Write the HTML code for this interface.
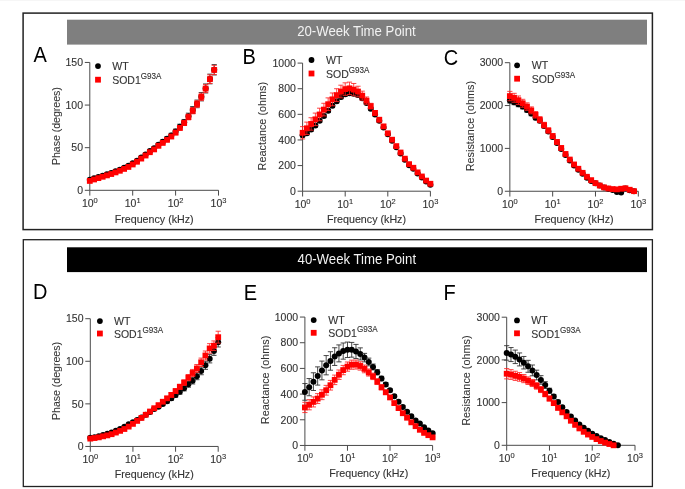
<!DOCTYPE html>
<html><head><meta charset="utf-8"><style>
html,body{margin:0;padding:0;background:#fff;width:685px;height:489px;overflow:hidden}
svg{display:block;will-change:transform}
text{font-family:"Liberation Sans", sans-serif}
</style></head><body>
<svg width="685" height="489" viewBox="0 0 685 489">
<rect x="0" y="0" width="685" height="1" fill="#f6f6f6"/>
<rect x="23.1" y="13.1" width="629.3" height="216.5" fill="none" stroke="#222" stroke-width="1.5"/>
<rect x="23.3" y="239.7" width="629.1" height="246.8" fill="none" stroke="#222" stroke-width="1.3"/>
<rect x="67" y="19.7" width="580" height="24.9" fill="#7f7f7f"/>
<rect x="67" y="247.3" width="580" height="24.8" fill="#000"/>
<text transform="translate(356.40,36.30) scale(1,1.04)" text-anchor="middle" font-size="13.2" fill="#f2f2f2">20-Week Time Point</text>
<text transform="translate(356.80,264.20) scale(1,1.04)" text-anchor="middle" font-size="13.2" fill="#f2f2f2">40-Week Time Point</text>
<path d="M89.80,62.45V190.30H218.50" fill="none" stroke="#4a4a4a" stroke-width="1"/>
<path d="M84.80,190.30H89.80" stroke="#4a4a4a" stroke-width="1"/>
<text transform="translate(83.00,194.05) scale(1,1.04)" text-anchor="end" font-size="10.5" fill="#333" stroke="#333" stroke-width="0.12">0</text>
<path d="M84.80,147.68H89.80" stroke="#4a4a4a" stroke-width="1"/>
<text transform="translate(83.00,151.43) scale(1,1.04)" text-anchor="end" font-size="10.5" fill="#333" stroke="#333" stroke-width="0.12">50</text>
<path d="M84.80,105.07H89.80" stroke="#4a4a4a" stroke-width="1"/>
<text transform="translate(83.00,108.82) scale(1,1.04)" text-anchor="end" font-size="10.5" fill="#333" stroke="#333" stroke-width="0.12">100</text>
<path d="M84.80,62.45H89.80" stroke="#4a4a4a" stroke-width="1"/>
<text transform="translate(83.00,66.20) scale(1,1.04)" text-anchor="end" font-size="10.5" fill="#333" stroke="#333" stroke-width="0.12">150</text>
<path d="M89.80,190.30V195.60" stroke="#4a4a4a" stroke-width="1"/>
<text transform="translate(89.80,207.30) scale(1,1.04)" text-anchor="middle" font-size="10.5" fill="#333" stroke="#333" stroke-width="0.12">10<tspan font-size="7.5" dy="-4.0">0</tspan></text>
<path d="M132.70,190.30V195.60" stroke="#4a4a4a" stroke-width="1"/>
<text transform="translate(132.70,207.30) scale(1,1.04)" text-anchor="middle" font-size="10.5" fill="#333" stroke="#333" stroke-width="0.12">10<tspan font-size="7.5" dy="-4.0">1</tspan></text>
<path d="M175.60,190.30V195.60" stroke="#4a4a4a" stroke-width="1"/>
<text transform="translate(175.60,207.30) scale(1,1.04)" text-anchor="middle" font-size="10.5" fill="#333" stroke="#333" stroke-width="0.12">10<tspan font-size="7.5" dy="-4.0">2</tspan></text>
<path d="M218.50,190.30V195.60" stroke="#4a4a4a" stroke-width="1"/>
<text transform="translate(218.50,207.30) scale(1,1.04)" text-anchor="middle" font-size="10.5" fill="#333" stroke="#333" stroke-width="0.12">10<tspan font-size="7.5" dy="-4.0">3</tspan></text>
<text transform="translate(154.15,222.70) scale(1,1.04)" text-anchor="middle" font-size="10.7" fill="#333" stroke="#333" stroke-width="0.12">Frequency (kHz)</text>
<text transform="translate(60.00,126.15) rotate(-90) scale(1,1.04)" text-anchor="middle" font-size="10.55" fill="#333" stroke="#333" stroke-width="0.05">Phase (degrees)</text>
<text transform="translate(33.60,61.60) scale(1,1.07)" font-size="20" fill="#000">A</text>
<circle cx="98.0" cy="66.1" r="2.9" fill="#000"/>
<rect x="95.1" y="76.8" width="5.8" height="5.8" fill="#f00"/>
<text transform="translate(112.20,69.70) scale(1,1.04)" font-size="10.6" fill="#333" stroke="#333" stroke-width="0.12">WT</text>
<text transform="translate(112.20,83.70) scale(1,1.04)" font-size="10.5" fill="#333" stroke="#333" stroke-width="0.12">SOD1<tspan font-size="8.1" dy="-4.6">G93A</tspan></text>
<path d="M89.80,179.13V180.50M87.20,179.13h5.2M87.20,180.50h5.2" stroke="#333" stroke-width="0.9" fill="none"/>
<circle cx="89.80" cy="179.82" r="3.0" fill="#000"/>
<path d="M94.09,177.65V179.09M91.49,177.65h5.2M91.49,179.09h5.2" stroke="#333" stroke-width="0.9" fill="none"/>
<circle cx="94.09" cy="178.37" r="3.0" fill="#000"/>
<path d="M98.38,176.24V177.77M95.78,176.24h5.2M95.78,177.77h5.2" stroke="#333" stroke-width="0.9" fill="none"/>
<circle cx="98.38" cy="177.00" r="3.0" fill="#000"/>
<path d="M102.67,174.84V176.44M100.07,174.84h5.2M100.07,176.44h5.2" stroke="#333" stroke-width="0.9" fill="none"/>
<circle cx="102.67" cy="175.64" r="3.0" fill="#000"/>
<path d="M106.96,173.44V175.12M104.36,173.44h5.2M104.36,175.12h5.2" stroke="#333" stroke-width="0.9" fill="none"/>
<circle cx="106.96" cy="174.28" r="3.0" fill="#000"/>
<path d="M111.25,172.03V173.79M108.65,172.03h5.2M108.65,173.79h5.2" stroke="#333" stroke-width="0.9" fill="none"/>
<circle cx="111.25" cy="172.91" r="3.0" fill="#000"/>
<path d="M115.54,170.37V172.21M112.94,170.37h5.2M112.94,172.21h5.2" stroke="#333" stroke-width="0.9" fill="none"/>
<circle cx="115.54" cy="171.29" r="3.0" fill="#000"/>
<path d="M119.83,168.71V170.63M117.23,168.71h5.2M117.23,170.63h5.2" stroke="#333" stroke-width="0.9" fill="none"/>
<circle cx="119.83" cy="169.67" r="3.0" fill="#000"/>
<path d="M124.12,166.80V168.80M121.52,166.80h5.2M121.52,168.80h5.2" stroke="#333" stroke-width="0.9" fill="none"/>
<circle cx="124.12" cy="167.80" r="3.0" fill="#000"/>
<path d="M128.41,164.80V166.88M125.81,164.80h5.2M125.81,166.88h5.2" stroke="#333" stroke-width="0.9" fill="none"/>
<circle cx="128.41" cy="165.84" r="3.0" fill="#000"/>
<path d="M132.70,162.29V164.45M130.10,162.29h5.2M130.10,164.45h5.2" stroke="#333" stroke-width="0.9" fill="none"/>
<circle cx="132.70" cy="163.37" r="3.0" fill="#000"/>
<path d="M136.99,159.52V161.76M134.39,159.52h5.2M134.39,161.76h5.2" stroke="#333" stroke-width="0.9" fill="none"/>
<circle cx="136.99" cy="160.64" r="3.0" fill="#000"/>
<path d="M141.28,156.33V158.64M138.68,156.33h5.2M138.68,158.64h5.2" stroke="#333" stroke-width="0.9" fill="none"/>
<circle cx="141.28" cy="157.49" r="3.0" fill="#000"/>
<path d="M145.57,153.22V155.62M142.97,153.22h5.2M142.97,155.62h5.2" stroke="#333" stroke-width="0.9" fill="none"/>
<circle cx="145.57" cy="154.42" r="3.0" fill="#000"/>
<path d="M149.86,149.85V152.33M147.26,149.85h5.2M147.26,152.33h5.2" stroke="#333" stroke-width="0.9" fill="none"/>
<circle cx="149.86" cy="151.09" r="3.0" fill="#000"/>
<path d="M154.15,147.00V149.56M151.55,147.00h5.2M151.55,149.56h5.2" stroke="#333" stroke-width="0.9" fill="none"/>
<circle cx="154.15" cy="148.28" r="3.0" fill="#000"/>
<path d="M158.44,143.20V146.20M155.84,143.20h5.2M155.84,146.20h5.2" stroke="#333" stroke-width="0.9" fill="none"/>
<circle cx="158.44" cy="144.70" r="3.0" fill="#000"/>
<path d="M162.73,140.09V143.52M160.13,140.09h5.2M160.13,143.52h5.2" stroke="#333" stroke-width="0.9" fill="none"/>
<circle cx="162.73" cy="141.80" r="3.0" fill="#000"/>
<path d="M167.02,136.80V140.67M164.42,136.80h5.2M164.42,140.67h5.2" stroke="#333" stroke-width="0.9" fill="none"/>
<circle cx="167.02" cy="138.73" r="3.0" fill="#000"/>
<path d="M171.31,133.25V137.56M168.71,133.25h5.2M168.71,137.56h5.2" stroke="#333" stroke-width="0.9" fill="none"/>
<circle cx="171.31" cy="135.41" r="3.0" fill="#000"/>
<path d="M175.60,129.11V133.86M173.00,129.11h5.2M173.00,133.86h5.2" stroke="#333" stroke-width="0.9" fill="none"/>
<circle cx="175.60" cy="131.49" r="3.0" fill="#000"/>
<path d="M179.89,124.21V129.39M177.29,124.21h5.2M177.29,129.39h5.2" stroke="#333" stroke-width="0.9" fill="none"/>
<circle cx="179.89" cy="126.80" r="3.0" fill="#000"/>
<path d="M184.18,119.47V125.10M181.58,119.47h5.2M181.58,125.10h5.2" stroke="#333" stroke-width="0.9" fill="none"/>
<circle cx="184.18" cy="122.28" r="3.0" fill="#000"/>
<path d="M188.47,113.16V119.47M185.87,113.16h5.2M185.87,119.47h5.2" stroke="#333" stroke-width="0.9" fill="none"/>
<circle cx="188.47" cy="116.32" r="3.0" fill="#000"/>
<path d="M192.76,106.52V113.50M190.16,106.52h5.2M190.16,113.50h5.2" stroke="#333" stroke-width="0.9" fill="none"/>
<circle cx="192.76" cy="110.01" r="3.0" fill="#000"/>
<path d="M197.05,100.04V107.71M194.45,100.04h5.2M194.45,107.71h5.2" stroke="#333" stroke-width="0.9" fill="none"/>
<circle cx="197.05" cy="103.87" r="3.0" fill="#000"/>
<path d="M201.34,92.54V100.89M198.74,92.54h5.2M198.74,100.89h5.2" stroke="#333" stroke-width="0.9" fill="none"/>
<circle cx="201.34" cy="96.71" r="3.0" fill="#000"/>
<path d="M205.63,83.93V92.96M203.03,83.93h5.2M203.03,92.96h5.2" stroke="#333" stroke-width="0.9" fill="none"/>
<circle cx="205.63" cy="88.45" r="3.0" fill="#000"/>
<path d="M209.92,74.13V83.84M207.32,74.13h5.2M207.32,83.84h5.2" stroke="#333" stroke-width="0.9" fill="none"/>
<circle cx="209.92" cy="78.99" r="3.0" fill="#000"/>
<path d="M214.21,64.58V74.98M211.61,64.58h5.2M211.61,74.98h5.2" stroke="#333" stroke-width="0.9" fill="none"/>
<circle cx="214.21" cy="69.78" r="3.0" fill="#000"/>
<path d="M89.80,180.24V181.61M87.20,180.24h5.2M87.20,181.61h5.2" stroke="#f22" stroke-width="0.85" fill="none"/>
<rect x="86.90" y="178.02" width="5.8" height="5.8" fill="#f00"/>
<path d="M94.09,178.75V180.20M91.49,178.75h5.2M91.49,180.20h5.2" stroke="#f22" stroke-width="0.85" fill="none"/>
<rect x="91.19" y="176.58" width="5.8" height="5.8" fill="#f00"/>
<path d="M98.38,177.35V178.87M95.78,177.35h5.2M95.78,178.87h5.2" stroke="#f22" stroke-width="0.85" fill="none"/>
<rect x="95.48" y="175.21" width="5.8" height="5.8" fill="#f00"/>
<path d="M102.67,175.95V177.55M100.07,175.95h5.2M100.07,177.55h5.2" stroke="#f22" stroke-width="0.85" fill="none"/>
<rect x="99.77" y="173.85" width="5.8" height="5.8" fill="#f00"/>
<path d="M106.96,174.54V176.23M104.36,174.54h5.2M104.36,176.23h5.2" stroke="#f22" stroke-width="0.85" fill="none"/>
<rect x="104.06" y="172.48" width="5.8" height="5.8" fill="#f00"/>
<path d="M111.25,173.14V174.90M108.65,173.14h5.2M108.65,174.90h5.2" stroke="#f22" stroke-width="0.85" fill="none"/>
<rect x="108.35" y="171.12" width="5.8" height="5.8" fill="#f00"/>
<path d="M115.54,171.48V173.32M112.94,171.48h5.2M112.94,173.32h5.2" stroke="#f22" stroke-width="0.85" fill="none"/>
<rect x="112.64" y="169.50" width="5.8" height="5.8" fill="#f00"/>
<path d="M119.83,169.82V171.74M117.23,169.82h5.2M117.23,171.74h5.2" stroke="#f22" stroke-width="0.85" fill="none"/>
<rect x="116.93" y="167.88" width="5.8" height="5.8" fill="#f00"/>
<path d="M124.12,167.91V169.91M121.52,167.91h5.2M121.52,169.91h5.2" stroke="#f22" stroke-width="0.85" fill="none"/>
<rect x="121.22" y="166.01" width="5.8" height="5.8" fill="#f00"/>
<path d="M128.41,165.91V167.99M125.81,165.91h5.2M125.81,167.99h5.2" stroke="#f22" stroke-width="0.85" fill="none"/>
<rect x="125.51" y="164.05" width="5.8" height="5.8" fill="#f00"/>
<path d="M132.70,163.39V165.55M130.10,163.39h5.2M130.10,165.55h5.2" stroke="#f22" stroke-width="0.85" fill="none"/>
<rect x="129.80" y="161.57" width="5.8" height="5.8" fill="#f00"/>
<path d="M136.99,160.63V162.87M134.39,160.63h5.2M134.39,162.87h5.2" stroke="#f22" stroke-width="0.85" fill="none"/>
<rect x="134.09" y="158.85" width="5.8" height="5.8" fill="#f00"/>
<path d="M141.28,157.43V159.75M138.68,157.43h5.2M138.68,159.75h5.2" stroke="#f22" stroke-width="0.85" fill="none"/>
<rect x="138.38" y="155.69" width="5.8" height="5.8" fill="#f00"/>
<path d="M145.57,154.33V156.72M142.97,154.33h5.2M142.97,156.72h5.2" stroke="#f22" stroke-width="0.85" fill="none"/>
<rect x="142.67" y="152.62" width="5.8" height="5.8" fill="#f00"/>
<path d="M149.86,150.96V153.44M147.26,150.96h5.2M147.26,153.44h5.2" stroke="#f22" stroke-width="0.85" fill="none"/>
<rect x="146.96" y="149.30" width="5.8" height="5.8" fill="#f00"/>
<path d="M154.15,148.11V150.67M151.55,148.11h5.2M151.55,150.67h5.2" stroke="#f22" stroke-width="0.85" fill="none"/>
<rect x="151.25" y="146.49" width="5.8" height="5.8" fill="#f00"/>
<path d="M158.44,144.35V147.27M155.84,144.35h5.2M155.84,147.27h5.2" stroke="#f22" stroke-width="0.85" fill="none"/>
<rect x="155.54" y="142.91" width="5.8" height="5.8" fill="#f00"/>
<path d="M162.73,141.27V144.55M160.13,141.27h5.2M160.13,144.55h5.2" stroke="#f22" stroke-width="0.85" fill="none"/>
<rect x="159.83" y="140.01" width="5.8" height="5.8" fill="#f00"/>
<path d="M167.02,138.02V141.67M164.42,138.02h5.2M164.42,141.67h5.2" stroke="#f22" stroke-width="0.85" fill="none"/>
<rect x="164.12" y="136.94" width="5.8" height="5.8" fill="#f00"/>
<path d="M171.31,134.51V138.53M168.71,134.51h5.2M168.71,138.53h5.2" stroke="#f22" stroke-width="0.85" fill="none"/>
<rect x="168.41" y="133.62" width="5.8" height="5.8" fill="#f00"/>
<path d="M175.60,130.41V134.79M173.00,130.41h5.2M173.00,134.79h5.2" stroke="#f22" stroke-width="0.85" fill="none"/>
<rect x="172.70" y="129.70" width="5.8" height="5.8" fill="#f00"/>
<path d="M179.89,125.53V130.28M177.29,125.53h5.2M177.29,130.28h5.2" stroke="#f22" stroke-width="0.85" fill="none"/>
<rect x="176.99" y="125.01" width="5.8" height="5.8" fill="#f00"/>
<path d="M184.18,120.41V125.52M181.58,120.41h5.2M181.58,125.52h5.2" stroke="#f22" stroke-width="0.85" fill="none"/>
<rect x="181.28" y="120.07" width="5.8" height="5.8" fill="#f00"/>
<path d="M188.47,114.17V119.83M185.87,114.17h5.2M185.87,119.83h5.2" stroke="#f22" stroke-width="0.85" fill="none"/>
<rect x="185.57" y="114.10" width="5.8" height="5.8" fill="#f00"/>
<path d="M192.76,107.58V113.80M190.16,107.58h5.2M190.16,113.80h5.2" stroke="#f22" stroke-width="0.85" fill="none"/>
<rect x="189.86" y="107.79" width="5.8" height="5.8" fill="#f00"/>
<path d="M197.05,100.66V107.43M194.45,100.66h5.2M194.45,107.43h5.2" stroke="#f22" stroke-width="0.85" fill="none"/>
<rect x="194.15" y="101.14" width="5.8" height="5.8" fill="#f00"/>
<path d="M201.34,93.22V100.55M198.74,93.22h5.2M198.74,100.55h5.2" stroke="#f22" stroke-width="0.85" fill="none"/>
<rect x="198.44" y="93.98" width="5.8" height="5.8" fill="#f00"/>
<path d="M205.63,84.64V92.59M203.03,84.64h5.2M203.03,92.59h5.2" stroke="#f22" stroke-width="0.85" fill="none"/>
<rect x="202.73" y="85.72" width="5.8" height="5.8" fill="#f00"/>
<path d="M209.92,74.87V83.45M207.32,74.87h5.2M207.32,83.45h5.2" stroke="#f22" stroke-width="0.85" fill="none"/>
<rect x="207.02" y="76.26" width="5.8" height="5.8" fill="#f00"/>
<path d="M214.21,65.35V74.55M211.61,65.35h5.2M211.61,74.55h5.2" stroke="#f22" stroke-width="0.85" fill="none"/>
<rect x="211.31" y="67.05" width="5.8" height="5.8" fill="#f00"/>
<path d="M302.60,63.10V191.20H430.40" fill="none" stroke="#4a4a4a" stroke-width="1"/>
<path d="M297.60,191.20H302.60" stroke="#4a4a4a" stroke-width="1"/>
<text transform="translate(295.80,194.95) scale(1,1.04)" text-anchor="end" font-size="10.5" fill="#333" stroke="#333" stroke-width="0.12">0</text>
<path d="M297.60,165.58H302.60" stroke="#4a4a4a" stroke-width="1"/>
<text transform="translate(295.80,169.33) scale(1,1.04)" text-anchor="end" font-size="10.5" fill="#333" stroke="#333" stroke-width="0.12">200</text>
<path d="M297.60,139.96H302.60" stroke="#4a4a4a" stroke-width="1"/>
<text transform="translate(295.80,143.71) scale(1,1.04)" text-anchor="end" font-size="10.5" fill="#333" stroke="#333" stroke-width="0.12">400</text>
<path d="M297.60,114.34H302.60" stroke="#4a4a4a" stroke-width="1"/>
<text transform="translate(295.80,118.09) scale(1,1.04)" text-anchor="end" font-size="10.5" fill="#333" stroke="#333" stroke-width="0.12">600</text>
<path d="M297.60,88.72H302.60" stroke="#4a4a4a" stroke-width="1"/>
<text transform="translate(295.80,92.47) scale(1,1.04)" text-anchor="end" font-size="10.5" fill="#333" stroke="#333" stroke-width="0.12">800</text>
<path d="M297.60,63.10H302.60" stroke="#4a4a4a" stroke-width="1"/>
<text transform="translate(295.80,66.85) scale(1,1.04)" text-anchor="end" font-size="10.5" fill="#333" stroke="#333" stroke-width="0.12">1000</text>
<path d="M302.60,191.20V196.50" stroke="#4a4a4a" stroke-width="1"/>
<text transform="translate(302.60,208.20) scale(1,1.04)" text-anchor="middle" font-size="10.5" fill="#333" stroke="#333" stroke-width="0.12">10<tspan font-size="7.5" dy="-4.0">0</tspan></text>
<path d="M345.20,191.20V196.50" stroke="#4a4a4a" stroke-width="1"/>
<text transform="translate(345.20,208.20) scale(1,1.04)" text-anchor="middle" font-size="10.5" fill="#333" stroke="#333" stroke-width="0.12">10<tspan font-size="7.5" dy="-4.0">1</tspan></text>
<path d="M387.80,191.20V196.50" stroke="#4a4a4a" stroke-width="1"/>
<text transform="translate(387.80,208.20) scale(1,1.04)" text-anchor="middle" font-size="10.5" fill="#333" stroke="#333" stroke-width="0.12">10<tspan font-size="7.5" dy="-4.0">2</tspan></text>
<path d="M430.40,191.20V196.50" stroke="#4a4a4a" stroke-width="1"/>
<text transform="translate(430.40,208.20) scale(1,1.04)" text-anchor="middle" font-size="10.5" fill="#333" stroke="#333" stroke-width="0.12">10<tspan font-size="7.5" dy="-4.0">3</tspan></text>
<text transform="translate(366.50,223.10) scale(1,1.04)" text-anchor="middle" font-size="10.7" fill="#333" stroke="#333" stroke-width="0.12">Frequency (kHz)</text>
<text transform="translate(266.30,126.15) rotate(-90) scale(1,1.04)" text-anchor="middle" font-size="10.85" fill="#333" stroke="#333" stroke-width="0.05">Reactance (ohms)</text>
<text transform="translate(242.40,63.90) scale(1,1.07)" font-size="20" fill="#000">B</text>
<circle cx="311.5" cy="60.0" r="2.9" fill="#000"/>
<rect x="308.6" y="70.6" width="5.8" height="5.8" fill="#f00"/>
<text transform="translate(326.00,63.80) scale(1,1.04)" font-size="10.6" fill="#333" stroke="#333" stroke-width="0.12">WT</text>
<text transform="translate(326.00,77.60) scale(1,1.04)" font-size="10.5" fill="#333" stroke="#333" stroke-width="0.12">SOD<tspan font-size="8.1" dy="-4.6">G93A</tspan></text>
<path d="M302.60,133.81V136.89M300.00,133.81h5.2M300.00,136.89h5.2" stroke="#333" stroke-width="0.9" fill="none"/>
<circle cx="302.60" cy="135.35" r="3.0" fill="#000"/>
<path d="M306.86,131.72V134.87M304.26,131.72h5.2M304.26,134.87h5.2" stroke="#333" stroke-width="0.9" fill="none"/>
<circle cx="306.86" cy="133.30" r="3.0" fill="#000"/>
<path d="M311.12,127.84V131.07M308.52,127.84h5.2M308.52,131.07h5.2" stroke="#333" stroke-width="0.9" fill="none"/>
<circle cx="311.12" cy="129.46" r="3.0" fill="#000"/>
<path d="M315.38,123.83V127.14M312.78,123.83h5.2M312.78,127.14h5.2" stroke="#333" stroke-width="0.9" fill="none"/>
<circle cx="315.38" cy="125.48" r="3.0" fill="#000"/>
<path d="M319.64,119.05V122.44M317.04,119.05h5.2M317.04,122.44h5.2" stroke="#333" stroke-width="0.9" fill="none"/>
<circle cx="319.64" cy="120.74" r="3.0" fill="#000"/>
<path d="M323.90,114.15V117.61M321.30,114.15h5.2M321.30,117.61h5.2" stroke="#333" stroke-width="0.9" fill="none"/>
<circle cx="323.90" cy="115.88" r="3.0" fill="#000"/>
<path d="M328.16,108.99V112.52M325.56,108.99h5.2M325.56,112.52h5.2" stroke="#333" stroke-width="0.9" fill="none"/>
<circle cx="328.16" cy="110.75" r="3.0" fill="#000"/>
<path d="M332.42,103.95V107.56M329.82,103.95h5.2M329.82,107.56h5.2" stroke="#333" stroke-width="0.9" fill="none"/>
<circle cx="332.42" cy="105.76" r="3.0" fill="#000"/>
<path d="M336.68,99.30V102.99M334.08,99.30h5.2M334.08,102.99h5.2" stroke="#333" stroke-width="0.9" fill="none"/>
<circle cx="336.68" cy="101.15" r="3.0" fill="#000"/>
<path d="M340.94,95.04V98.80M338.34,95.04h5.2M338.34,98.80h5.2" stroke="#333" stroke-width="0.9" fill="none"/>
<circle cx="340.94" cy="96.92" r="3.0" fill="#000"/>
<path d="M345.20,92.31V96.15M342.60,92.31h5.2M342.60,96.15h5.2" stroke="#333" stroke-width="0.9" fill="none"/>
<circle cx="345.20" cy="94.23" r="3.0" fill="#000"/>
<path d="M349.46,91.37V95.04M346.86,91.37h5.2M346.86,95.04h5.2" stroke="#333" stroke-width="0.9" fill="none"/>
<circle cx="349.46" cy="93.20" r="3.0" fill="#000"/>
<path d="M353.72,92.10V95.59M351.12,92.10h5.2M351.12,95.59h5.2" stroke="#333" stroke-width="0.9" fill="none"/>
<circle cx="353.72" cy="93.84" r="3.0" fill="#000"/>
<path d="M357.98,93.47V96.78M355.38,93.47h5.2M355.38,96.78h5.2" stroke="#333" stroke-width="0.9" fill="none"/>
<circle cx="357.98" cy="95.12" r="3.0" fill="#000"/>
<path d="M362.24,96.76V99.89M359.64,96.76h5.2M359.64,99.89h5.2" stroke="#333" stroke-width="0.9" fill="none"/>
<circle cx="362.24" cy="98.33" r="3.0" fill="#000"/>
<path d="M366.50,101.47V104.41M363.90,101.47h5.2M363.90,104.41h5.2" stroke="#333" stroke-width="0.9" fill="none"/>
<circle cx="366.50" cy="102.94" r="3.0" fill="#000"/>
<path d="M370.76,107.32V110.09M368.16,107.32h5.2M368.16,110.09h5.2" stroke="#333" stroke-width="0.9" fill="none"/>
<circle cx="370.76" cy="108.70" r="3.0" fill="#000"/>
<path d="M375.02,113.17V115.76M372.42,113.17h5.2M372.42,115.76h5.2" stroke="#333" stroke-width="0.9" fill="none"/>
<circle cx="375.02" cy="114.47" r="3.0" fill="#000"/>
<path d="M379.28,119.54V121.95M376.68,119.54h5.2M376.68,121.95h5.2" stroke="#333" stroke-width="0.9" fill="none"/>
<circle cx="379.28" cy="120.74" r="3.0" fill="#000"/>
<path d="M383.54,126.29V128.52M380.94,126.29h5.2M380.94,128.52h5.2" stroke="#333" stroke-width="0.9" fill="none"/>
<circle cx="383.54" cy="127.41" r="3.0" fill="#000"/>
<path d="M387.80,133.30V135.35M385.20,133.30h5.2M385.20,135.35h5.2" stroke="#333" stroke-width="0.9" fill="none"/>
<circle cx="387.80" cy="134.32" r="3.0" fill="#000"/>
<path d="M392.06,139.76V141.70M389.46,139.76h5.2M389.46,141.70h5.2" stroke="#333" stroke-width="0.9" fill="none"/>
<circle cx="392.06" cy="140.73" r="3.0" fill="#000"/>
<path d="M396.32,146.21V148.06M393.72,146.21h5.2M393.72,148.06h5.2" stroke="#333" stroke-width="0.9" fill="none"/>
<circle cx="396.32" cy="147.13" r="3.0" fill="#000"/>
<path d="M400.58,152.67V154.41M397.98,152.67h5.2M397.98,154.41h5.2" stroke="#333" stroke-width="0.9" fill="none"/>
<circle cx="400.58" cy="153.54" r="3.0" fill="#000"/>
<path d="M404.84,158.87V160.51M402.24,158.87h5.2M402.24,160.51h5.2" stroke="#333" stroke-width="0.9" fill="none"/>
<circle cx="404.84" cy="159.69" r="3.0" fill="#000"/>
<path d="M409.10,164.43V165.96M406.50,164.43h5.2M406.50,165.96h5.2" stroke="#333" stroke-width="0.9" fill="none"/>
<circle cx="409.10" cy="165.20" r="3.0" fill="#000"/>
<path d="M413.36,168.07V169.50M410.76,168.07h5.2M410.76,169.50h5.2" stroke="#333" stroke-width="0.9" fill="none"/>
<circle cx="413.36" cy="168.78" r="3.0" fill="#000"/>
<path d="M417.62,172.73V174.06M415.02,172.73h5.2M415.02,174.06h5.2" stroke="#333" stroke-width="0.9" fill="none"/>
<circle cx="417.62" cy="173.39" r="3.0" fill="#000"/>
<path d="M421.88,176.88V178.11M419.28,176.88h5.2M419.28,178.11h5.2" stroke="#333" stroke-width="0.9" fill="none"/>
<circle cx="421.88" cy="177.49" r="3.0" fill="#000"/>
<path d="M426.14,181.03V182.16M423.54,181.03h5.2M423.54,182.16h5.2" stroke="#333" stroke-width="0.9" fill="none"/>
<circle cx="426.14" cy="181.59" r="3.0" fill="#000"/>
<path d="M430.40,184.28V185.31M427.80,184.28h5.2M427.80,185.31h5.2" stroke="#333" stroke-width="0.9" fill="none"/>
<circle cx="430.40" cy="184.79" r="3.0" fill="#000"/>
<path d="M302.60,126.64V138.94M300.00,126.64h5.2M300.00,138.94h5.2" stroke="#f22" stroke-width="0.85" fill="none"/>
<rect x="299.70" y="129.89" width="5.8" height="5.8" fill="#f00"/>
<path d="M306.86,122.12V134.48M304.26,122.12h5.2M304.26,134.48h5.2" stroke="#f22" stroke-width="0.85" fill="none"/>
<rect x="303.96" y="125.40" width="5.8" height="5.8" fill="#f00"/>
<path d="M311.12,117.73V130.16M308.52,117.73h5.2M308.52,130.16h5.2" stroke="#f22" stroke-width="0.85" fill="none"/>
<rect x="308.22" y="121.05" width="5.8" height="5.8" fill="#f00"/>
<path d="M315.38,113.09V125.58M312.78,113.09h5.2M312.78,125.58h5.2" stroke="#f22" stroke-width="0.85" fill="none"/>
<rect x="312.48" y="116.44" width="5.8" height="5.8" fill="#f00"/>
<path d="M319.64,108.19V120.74M317.04,108.19h5.2M317.04,120.74h5.2" stroke="#f22" stroke-width="0.85" fill="none"/>
<rect x="316.74" y="111.57" width="5.8" height="5.8" fill="#f00"/>
<path d="M323.90,103.29V115.91M321.30,103.29h5.2M321.30,115.91h5.2" stroke="#f22" stroke-width="0.85" fill="none"/>
<rect x="321.00" y="106.70" width="5.8" height="5.8" fill="#f00"/>
<path d="M328.16,97.88V110.56M325.56,97.88h5.2M325.56,110.56h5.2" stroke="#f22" stroke-width="0.85" fill="none"/>
<rect x="325.26" y="101.32" width="5.8" height="5.8" fill="#f00"/>
<path d="M332.42,92.98V105.73M329.82,92.98h5.2M329.82,105.73h5.2" stroke="#f22" stroke-width="0.85" fill="none"/>
<rect x="329.52" y="96.45" width="5.8" height="5.8" fill="#f00"/>
<path d="M336.68,88.72V101.53M334.08,88.72h5.2M334.08,101.53h5.2" stroke="#f22" stroke-width="0.85" fill="none"/>
<rect x="333.78" y="92.22" width="5.8" height="5.8" fill="#f00"/>
<path d="M340.94,85.20V97.88M338.34,85.20h5.2M338.34,97.88h5.2" stroke="#f22" stroke-width="0.85" fill="none"/>
<rect x="338.04" y="88.64" width="5.8" height="5.8" fill="#f00"/>
<path d="M345.20,82.83V95.38M342.60,82.83h5.2M342.60,95.38h5.2" stroke="#f22" stroke-width="0.85" fill="none"/>
<rect x="342.30" y="86.20" width="5.8" height="5.8" fill="#f00"/>
<path d="M349.46,82.12V94.55M346.86,82.12h5.2M346.86,94.55h5.2" stroke="#f22" stroke-width="0.85" fill="none"/>
<rect x="346.56" y="85.44" width="5.8" height="5.8" fill="#f00"/>
<path d="M353.72,83.47V95.77M351.12,83.47h5.2M351.12,95.77h5.2" stroke="#f22" stroke-width="0.85" fill="none"/>
<rect x="350.82" y="86.72" width="5.8" height="5.8" fill="#f00"/>
<path d="M357.98,86.22V96.85M355.38,86.22h5.2M355.38,96.85h5.2" stroke="#f22" stroke-width="0.85" fill="none"/>
<rect x="355.08" y="88.64" width="5.8" height="5.8" fill="#f00"/>
<path d="M362.24,91.15V100.12M359.64,91.15h5.2M359.64,100.12h5.2" stroke="#f22" stroke-width="0.85" fill="none"/>
<rect x="359.34" y="92.74" width="5.8" height="5.8" fill="#f00"/>
<path d="M366.50,96.98V104.28M363.90,96.98h5.2M363.90,104.28h5.2" stroke="#f22" stroke-width="0.85" fill="none"/>
<rect x="363.60" y="97.73" width="5.8" height="5.8" fill="#f00"/>
<path d="M370.76,103.32V108.96M368.16,103.32h5.2M368.16,108.96h5.2" stroke="#f22" stroke-width="0.85" fill="none"/>
<rect x="367.86" y="103.24" width="5.8" height="5.8" fill="#f00"/>
<path d="M375.02,110.56V115.30M372.42,110.56h5.2M372.42,115.30h5.2" stroke="#f22" stroke-width="0.85" fill="none"/>
<rect x="372.12" y="110.03" width="5.8" height="5.8" fill="#f00"/>
<path d="M379.28,117.80V121.64M376.68,117.80h5.2M376.68,121.64h5.2" stroke="#f22" stroke-width="0.85" fill="none"/>
<rect x="376.38" y="116.82" width="5.8" height="5.8" fill="#f00"/>
<path d="M383.54,124.91V127.85M380.94,124.91h5.2M380.94,127.85h5.2" stroke="#f22" stroke-width="0.85" fill="none"/>
<rect x="380.64" y="123.48" width="5.8" height="5.8" fill="#f00"/>
<path d="M387.80,132.27V134.32M385.20,132.27h5.2M385.20,134.32h5.2" stroke="#f22" stroke-width="0.85" fill="none"/>
<rect x="384.90" y="130.40" width="5.8" height="5.8" fill="#f00"/>
<path d="M392.06,138.73V140.68M389.46,138.73h5.2M389.46,140.68h5.2" stroke="#f22" stroke-width="0.85" fill="none"/>
<rect x="389.16" y="136.80" width="5.8" height="5.8" fill="#f00"/>
<path d="M396.32,145.19V147.03M393.72,145.19h5.2M393.72,147.03h5.2" stroke="#f22" stroke-width="0.85" fill="none"/>
<rect x="393.42" y="143.21" width="5.8" height="5.8" fill="#f00"/>
<path d="M400.58,151.64V153.38M397.98,151.64h5.2M397.98,153.38h5.2" stroke="#f22" stroke-width="0.85" fill="none"/>
<rect x="397.68" y="149.61" width="5.8" height="5.8" fill="#f00"/>
<path d="M404.84,157.84V159.48M402.24,157.84h5.2M402.24,159.48h5.2" stroke="#f22" stroke-width="0.85" fill="none"/>
<rect x="401.94" y="155.76" width="5.8" height="5.8" fill="#f00"/>
<path d="M409.10,163.40V164.94M406.50,163.40h5.2M406.50,164.94h5.2" stroke="#f22" stroke-width="0.85" fill="none"/>
<rect x="406.20" y="161.27" width="5.8" height="5.8" fill="#f00"/>
<path d="M413.36,167.04V168.48M410.76,167.04h5.2M410.76,168.48h5.2" stroke="#f22" stroke-width="0.85" fill="none"/>
<rect x="410.46" y="164.86" width="5.8" height="5.8" fill="#f00"/>
<path d="M417.62,171.70V173.04M415.02,171.70h5.2M415.02,173.04h5.2" stroke="#f22" stroke-width="0.85" fill="none"/>
<rect x="414.72" y="169.47" width="5.8" height="5.8" fill="#f00"/>
<path d="M421.88,175.85V177.08M419.28,175.85h5.2M419.28,177.08h5.2" stroke="#f22" stroke-width="0.85" fill="none"/>
<rect x="418.98" y="173.57" width="5.8" height="5.8" fill="#f00"/>
<path d="M426.14,180.00V181.13M423.54,180.00h5.2M423.54,181.13h5.2" stroke="#f22" stroke-width="0.85" fill="none"/>
<rect x="423.24" y="177.67" width="5.8" height="5.8" fill="#f00"/>
<path d="M430.40,183.26V184.28M427.80,183.26h5.2M427.80,184.28h5.2" stroke="#f22" stroke-width="0.85" fill="none"/>
<rect x="427.50" y="180.87" width="5.8" height="5.8" fill="#f00"/>
<path d="M509.85,62.70V191.25H638.30" fill="none" stroke="#4a4a4a" stroke-width="1"/>
<path d="M504.85,191.25H509.85" stroke="#4a4a4a" stroke-width="1"/>
<text transform="translate(503.05,195.00) scale(1,1.04)" text-anchor="end" font-size="10.5" fill="#333" stroke="#333" stroke-width="0.12">0</text>
<path d="M504.85,148.40H509.85" stroke="#4a4a4a" stroke-width="1"/>
<text transform="translate(503.05,152.15) scale(1,1.04)" text-anchor="end" font-size="10.5" fill="#333" stroke="#333" stroke-width="0.12">1000</text>
<path d="M504.85,105.55H509.85" stroke="#4a4a4a" stroke-width="1"/>
<text transform="translate(503.05,109.30) scale(1,1.04)" text-anchor="end" font-size="10.5" fill="#333" stroke="#333" stroke-width="0.12">2000</text>
<path d="M504.85,62.70H509.85" stroke="#4a4a4a" stroke-width="1"/>
<text transform="translate(503.05,66.45) scale(1,1.04)" text-anchor="end" font-size="10.5" fill="#333" stroke="#333" stroke-width="0.12">3000</text>
<path d="M509.85,191.25V196.55" stroke="#4a4a4a" stroke-width="1"/>
<text transform="translate(509.85,208.25) scale(1,1.04)" text-anchor="middle" font-size="10.5" fill="#333" stroke="#333" stroke-width="0.12">10<tspan font-size="7.5" dy="-4.0">0</tspan></text>
<path d="M552.67,191.25V196.55" stroke="#4a4a4a" stroke-width="1"/>
<text transform="translate(552.67,208.25) scale(1,1.04)" text-anchor="middle" font-size="10.5" fill="#333" stroke="#333" stroke-width="0.12">10<tspan font-size="7.5" dy="-4.0">1</tspan></text>
<path d="M595.48,191.25V196.55" stroke="#4a4a4a" stroke-width="1"/>
<text transform="translate(595.48,208.25) scale(1,1.04)" text-anchor="middle" font-size="10.5" fill="#333" stroke="#333" stroke-width="0.12">10<tspan font-size="7.5" dy="-4.0">2</tspan></text>
<path d="M638.30,191.25V196.55" stroke="#4a4a4a" stroke-width="1"/>
<text transform="translate(638.30,208.25) scale(1,1.04)" text-anchor="middle" font-size="10.5" fill="#333" stroke="#333" stroke-width="0.12">10<tspan font-size="7.5" dy="-4.0">3</tspan></text>
<text transform="translate(574.08,222.85) scale(1,1.04)" text-anchor="middle" font-size="10.7" fill="#333" stroke="#333" stroke-width="0.12">Frequency (kHz)</text>
<text transform="translate(473.60,126.10) rotate(-90) scale(1,1.04)" text-anchor="middle" font-size="10.85" fill="#333" stroke="#333" stroke-width="0.05">Resistance (ohms)</text>
<text transform="translate(443.70,64.80) scale(1,1.07)" font-size="20" fill="#000">C</text>
<circle cx="517.1" cy="65.3" r="2.9" fill="#000"/>
<rect x="514.2" y="75.8" width="5.8" height="5.8" fill="#f00"/>
<text transform="translate(531.80,68.80) scale(1,1.04)" font-size="10.6" fill="#333" stroke="#333" stroke-width="0.12">WT</text>
<text transform="translate(531.80,82.70) scale(1,1.04)" font-size="10.5" fill="#333" stroke="#333" stroke-width="0.12">SOD<tspan font-size="8.1" dy="-4.6">G93A</tspan></text>
<path d="M509.85,97.92V103.06M507.25,97.92h5.2M507.25,103.06h5.2" stroke="#333" stroke-width="0.9" fill="none"/>
<circle cx="509.85" cy="100.49" r="3.0" fill="#000"/>
<path d="M514.13,99.72V104.69M511.53,99.72h5.2M511.53,104.69h5.2" stroke="#333" stroke-width="0.9" fill="none"/>
<circle cx="514.13" cy="102.21" r="3.0" fill="#000"/>
<path d="M518.41,101.91V106.71M515.81,101.91h5.2M515.81,106.71h5.2" stroke="#333" stroke-width="0.9" fill="none"/>
<circle cx="518.41" cy="104.31" r="3.0" fill="#000"/>
<path d="M522.70,104.26V108.89M520.10,104.26h5.2M520.10,108.89h5.2" stroke="#333" stroke-width="0.9" fill="none"/>
<circle cx="522.70" cy="106.58" r="3.0" fill="#000"/>
<path d="M526.98,107.65V112.11M524.38,107.65h5.2M524.38,112.11h5.2" stroke="#333" stroke-width="0.9" fill="none"/>
<circle cx="526.98" cy="109.88" r="3.0" fill="#000"/>
<path d="M531.26,111.46V115.75M528.66,111.46h5.2M528.66,115.75h5.2" stroke="#333" stroke-width="0.9" fill="none"/>
<circle cx="531.26" cy="113.61" r="3.0" fill="#000"/>
<path d="M535.54,115.62V119.73M532.94,115.62h5.2M532.94,119.73h5.2" stroke="#333" stroke-width="0.9" fill="none"/>
<circle cx="535.54" cy="117.68" r="3.0" fill="#000"/>
<path d="M539.82,118.66V122.60M537.22,118.66h5.2M537.22,122.60h5.2" stroke="#333" stroke-width="0.9" fill="none"/>
<circle cx="539.82" cy="120.63" r="3.0" fill="#000"/>
<path d="M544.10,124.15V127.92M541.50,124.15h5.2M541.50,127.92h5.2" stroke="#333" stroke-width="0.9" fill="none"/>
<circle cx="544.10" cy="126.03" r="3.0" fill="#000"/>
<path d="M548.38,129.63V133.23M545.78,129.63h5.2M545.78,133.23h5.2" stroke="#333" stroke-width="0.9" fill="none"/>
<circle cx="548.38" cy="131.43" r="3.0" fill="#000"/>
<path d="M552.67,135.29V138.72M550.07,135.29h5.2M550.07,138.72h5.2" stroke="#333" stroke-width="0.9" fill="none"/>
<circle cx="552.67" cy="137.00" r="3.0" fill="#000"/>
<path d="M556.95,141.31V144.52M554.35,141.31h5.2M554.35,144.52h5.2" stroke="#333" stroke-width="0.9" fill="none"/>
<circle cx="556.95" cy="142.92" r="3.0" fill="#000"/>
<path d="M561.23,147.41V150.41M558.63,147.41h5.2M558.63,150.41h5.2" stroke="#333" stroke-width="0.9" fill="none"/>
<circle cx="561.23" cy="148.91" r="3.0" fill="#000"/>
<path d="M565.51,153.52V156.31M562.91,153.52h5.2M562.91,156.31h5.2" stroke="#333" stroke-width="0.9" fill="none"/>
<circle cx="565.51" cy="154.91" r="3.0" fill="#000"/>
<path d="M569.79,159.20V161.77M567.19,159.20h5.2M567.19,161.77h5.2" stroke="#333" stroke-width="0.9" fill="none"/>
<circle cx="569.79" cy="160.48" r="3.0" fill="#000"/>
<path d="M574.08,164.23V166.59M571.48,164.23h5.2M571.48,166.59h5.2" stroke="#333" stroke-width="0.9" fill="none"/>
<circle cx="574.08" cy="165.41" r="3.0" fill="#000"/>
<path d="M578.36,168.63V170.77M575.76,168.63h5.2M575.76,170.77h5.2" stroke="#333" stroke-width="0.9" fill="none"/>
<circle cx="578.36" cy="169.70" r="3.0" fill="#000"/>
<path d="M582.64,172.80V174.73M580.04,172.80h5.2M580.04,174.73h5.2" stroke="#333" stroke-width="0.9" fill="none"/>
<circle cx="582.64" cy="173.77" r="3.0" fill="#000"/>
<path d="M586.92,176.85V178.57M584.32,176.85h5.2M584.32,178.57h5.2" stroke="#333" stroke-width="0.9" fill="none"/>
<circle cx="586.92" cy="177.71" r="3.0" fill="#000"/>
<path d="M591.20,180.34V181.84M588.60,180.34h5.2M588.60,181.84h5.2" stroke="#333" stroke-width="0.9" fill="none"/>
<circle cx="591.20" cy="181.09" r="3.0" fill="#000"/>
<path d="M595.48,182.51V183.79M592.88,182.51h5.2M592.88,183.79h5.2" stroke="#333" stroke-width="0.9" fill="none"/>
<circle cx="595.48" cy="183.15" r="3.0" fill="#000"/>
<path d="M599.76,184.91V186.19M597.16,184.91h5.2M597.16,186.19h5.2" stroke="#333" stroke-width="0.9" fill="none"/>
<circle cx="599.76" cy="185.55" r="3.0" fill="#000"/>
<path d="M604.05,186.75V188.04M601.45,186.75h5.2M601.45,188.04h5.2" stroke="#333" stroke-width="0.9" fill="none"/>
<circle cx="604.05" cy="187.39" r="3.0" fill="#000"/>
<path d="M608.33,188.04V189.32M605.73,188.04h5.2M605.73,189.32h5.2" stroke="#333" stroke-width="0.9" fill="none"/>
<circle cx="608.33" cy="188.68" r="3.0" fill="#000"/>
<path d="M612.61,189.32V190.61M610.01,189.32h5.2M610.01,190.61h5.2" stroke="#333" stroke-width="0.9" fill="none"/>
<circle cx="612.61" cy="189.96" r="3.0" fill="#000"/>
<path d="M616.89,191.25V192.54M614.29,191.25h5.2M614.29,192.54h5.2" stroke="#333" stroke-width="0.9" fill="none"/>
<circle cx="616.89" cy="191.89" r="3.0" fill="#000"/>
<path d="M621.17,191.81V193.09M618.57,191.81h5.2M618.57,193.09h5.2" stroke="#333" stroke-width="0.9" fill="none"/>
<circle cx="621.17" cy="192.45" r="3.0" fill="#000"/>
<path d="M625.46,187.82V189.11M622.86,187.82h5.2M622.86,189.11h5.2" stroke="#333" stroke-width="0.9" fill="none"/>
<circle cx="625.46" cy="188.46" r="3.0" fill="#000"/>
<path d="M629.74,189.54V190.82M627.14,189.54h5.2M627.14,190.82h5.2" stroke="#333" stroke-width="0.9" fill="none"/>
<circle cx="629.74" cy="190.18" r="3.0" fill="#000"/>
<path d="M634.02,190.61V191.89M631.42,190.61h5.2M631.42,191.89h5.2" stroke="#333" stroke-width="0.9" fill="none"/>
<circle cx="634.02" cy="191.25" r="3.0" fill="#000"/>
<path d="M509.85,91.37V100.79M507.25,91.37h5.2M507.25,100.79h5.2" stroke="#f22" stroke-width="0.85" fill="none"/>
<rect x="506.95" y="93.18" width="5.8" height="5.8" fill="#f00"/>
<path d="M514.13,93.33V102.26M511.53,93.33h5.2M511.53,102.26h5.2" stroke="#f22" stroke-width="0.85" fill="none"/>
<rect x="511.23" y="94.89" width="5.8" height="5.8" fill="#f00"/>
<path d="M518.41,95.97V104.42M515.81,95.97h5.2M515.81,104.42h5.2" stroke="#f22" stroke-width="0.85" fill="none"/>
<rect x="515.51" y="97.29" width="5.8" height="5.8" fill="#f00"/>
<path d="M522.70,99.30V107.26M520.10,99.30h5.2M520.10,107.26h5.2" stroke="#f22" stroke-width="0.85" fill="none"/>
<rect x="519.80" y="100.38" width="5.8" height="5.8" fill="#f00"/>
<path d="M526.98,102.84V110.31M524.38,102.84h5.2M524.38,110.31h5.2" stroke="#f22" stroke-width="0.85" fill="none"/>
<rect x="524.08" y="103.68" width="5.8" height="5.8" fill="#f00"/>
<path d="M531.26,106.90V113.88M528.66,106.90h5.2M528.66,113.88h5.2" stroke="#f22" stroke-width="0.85" fill="none"/>
<rect x="528.36" y="107.49" width="5.8" height="5.8" fill="#f00"/>
<path d="M535.54,111.56V118.05M532.94,111.56h5.2M532.94,118.05h5.2" stroke="#f22" stroke-width="0.85" fill="none"/>
<rect x="532.64" y="111.91" width="5.8" height="5.8" fill="#f00"/>
<path d="M539.82,116.69V122.69M537.22,116.69h5.2M537.22,122.69h5.2" stroke="#f22" stroke-width="0.85" fill="none"/>
<rect x="536.92" y="116.79" width="5.8" height="5.8" fill="#f00"/>
<path d="M544.10,122.30V127.87M541.50,122.30h5.2M541.50,127.87h5.2" stroke="#f22" stroke-width="0.85" fill="none"/>
<rect x="541.20" y="122.19" width="5.8" height="5.8" fill="#f00"/>
<path d="M548.38,127.92V133.06M545.78,127.92h5.2M545.78,133.06h5.2" stroke="#f22" stroke-width="0.85" fill="none"/>
<rect x="545.49" y="127.59" width="5.8" height="5.8" fill="#f00"/>
<path d="M552.67,133.70V138.42M550.07,133.70h5.2M550.07,138.42h5.2" stroke="#f22" stroke-width="0.85" fill="none"/>
<rect x="549.77" y="133.16" width="5.8" height="5.8" fill="#f00"/>
<path d="M556.95,139.83V144.12M554.35,139.83h5.2M554.35,144.12h5.2" stroke="#f22" stroke-width="0.85" fill="none"/>
<rect x="554.05" y="139.07" width="5.8" height="5.8" fill="#f00"/>
<path d="M561.23,146.04V149.90M558.63,146.04h5.2M558.63,149.90h5.2" stroke="#f22" stroke-width="0.85" fill="none"/>
<rect x="558.33" y="145.07" width="5.8" height="5.8" fill="#f00"/>
<path d="M565.51,152.26V155.68M562.91,152.26h5.2M562.91,155.68h5.2" stroke="#f22" stroke-width="0.85" fill="none"/>
<rect x="562.61" y="151.07" width="5.8" height="5.8" fill="#f00"/>
<path d="M569.79,158.04V161.04M567.19,158.04h5.2M567.19,161.04h5.2" stroke="#f22" stroke-width="0.85" fill="none"/>
<rect x="566.89" y="156.64" width="5.8" height="5.8" fill="#f00"/>
<path d="M574.08,163.18V165.75M571.48,163.18h5.2M571.48,165.75h5.2" stroke="#f22" stroke-width="0.85" fill="none"/>
<rect x="571.18" y="161.57" width="5.8" height="5.8" fill="#f00"/>
<path d="M578.36,167.56V169.95M575.76,167.56h5.2M575.76,169.95h5.2" stroke="#f22" stroke-width="0.85" fill="none"/>
<rect x="575.46" y="165.85" width="5.8" height="5.8" fill="#f00"/>
<path d="M582.64,171.72V173.93M580.04,171.72h5.2M580.04,173.93h5.2" stroke="#f22" stroke-width="0.85" fill="none"/>
<rect x="579.74" y="169.92" width="5.8" height="5.8" fill="#f00"/>
<path d="M586.92,175.76V177.78M584.32,175.76h5.2M584.32,177.78h5.2" stroke="#f22" stroke-width="0.85" fill="none"/>
<rect x="584.02" y="173.87" width="5.8" height="5.8" fill="#f00"/>
<path d="M591.20,179.23V181.07M588.60,179.23h5.2M588.60,181.07h5.2" stroke="#f22" stroke-width="0.85" fill="none"/>
<rect x="588.30" y="177.25" width="5.8" height="5.8" fill="#f00"/>
<path d="M595.48,182.32V183.98M592.88,182.32h5.2M592.88,183.98h5.2" stroke="#f22" stroke-width="0.85" fill="none"/>
<rect x="592.58" y="180.25" width="5.8" height="5.8" fill="#f00"/>
<path d="M599.76,184.82V186.29M597.16,184.82h5.2M597.16,186.29h5.2" stroke="#f22" stroke-width="0.85" fill="none"/>
<rect x="596.87" y="182.65" width="5.8" height="5.8" fill="#f00"/>
<path d="M604.05,186.75V188.04M601.45,186.75h5.2M601.45,188.04h5.2" stroke="#f22" stroke-width="0.85" fill="none"/>
<rect x="601.15" y="184.49" width="5.8" height="5.8" fill="#f00"/>
<path d="M608.33,187.82V189.11M605.73,187.82h5.2M605.73,189.11h5.2" stroke="#f22" stroke-width="0.85" fill="none"/>
<rect x="605.43" y="185.56" width="5.8" height="5.8" fill="#f00"/>
<path d="M612.61,188.42V189.71M610.01,188.42h5.2M610.01,189.71h5.2" stroke="#f22" stroke-width="0.85" fill="none"/>
<rect x="609.71" y="186.16" width="5.8" height="5.8" fill="#f00"/>
<path d="M616.89,188.72V190.01M614.29,188.72h5.2M614.29,190.01h5.2" stroke="#f22" stroke-width="0.85" fill="none"/>
<rect x="613.99" y="186.46" width="5.8" height="5.8" fill="#f00"/>
<path d="M621.17,188.12V189.41M618.57,188.12h5.2M618.57,189.41h5.2" stroke="#f22" stroke-width="0.85" fill="none"/>
<rect x="618.27" y="185.86" width="5.8" height="5.8" fill="#f00"/>
<path d="M625.46,187.61V188.89M622.86,187.61h5.2M622.86,188.89h5.2" stroke="#f22" stroke-width="0.85" fill="none"/>
<rect x="622.56" y="185.35" width="5.8" height="5.8" fill="#f00"/>
<path d="M629.74,189.11V190.39M627.14,189.11h5.2M627.14,190.39h5.2" stroke="#f22" stroke-width="0.85" fill="none"/>
<rect x="626.84" y="186.85" width="5.8" height="5.8" fill="#f00"/>
<path d="M634.02,190.52V191.81M631.42,190.52h5.2M631.42,191.81h5.2" stroke="#f22" stroke-width="0.85" fill="none"/>
<rect x="631.12" y="188.26" width="5.8" height="5.8" fill="#f00"/>
<path d="M90.30,318.70V446.45H218.20" fill="none" stroke="#4a4a4a" stroke-width="1"/>
<path d="M85.30,446.45H90.30" stroke="#4a4a4a" stroke-width="1"/>
<text transform="translate(83.50,450.20) scale(1,1.04)" text-anchor="end" font-size="10.5" fill="#333" stroke="#333" stroke-width="0.12">0</text>
<path d="M85.30,403.87H90.30" stroke="#4a4a4a" stroke-width="1"/>
<text transform="translate(83.50,407.62) scale(1,1.04)" text-anchor="end" font-size="10.5" fill="#333" stroke="#333" stroke-width="0.12">50</text>
<path d="M85.30,361.28H90.30" stroke="#4a4a4a" stroke-width="1"/>
<text transform="translate(83.50,365.03) scale(1,1.04)" text-anchor="end" font-size="10.5" fill="#333" stroke="#333" stroke-width="0.12">100</text>
<path d="M85.30,318.70H90.30" stroke="#4a4a4a" stroke-width="1"/>
<text transform="translate(83.50,322.45) scale(1,1.04)" text-anchor="end" font-size="10.5" fill="#333" stroke="#333" stroke-width="0.12">150</text>
<path d="M90.30,446.45V451.75" stroke="#4a4a4a" stroke-width="1"/>
<text transform="translate(90.30,463.45) scale(1,1.04)" text-anchor="middle" font-size="10.5" fill="#333" stroke="#333" stroke-width="0.12">10<tspan font-size="7.5" dy="-4.0">0</tspan></text>
<path d="M132.93,446.45V451.75" stroke="#4a4a4a" stroke-width="1"/>
<text transform="translate(132.93,463.45) scale(1,1.04)" text-anchor="middle" font-size="10.5" fill="#333" stroke="#333" stroke-width="0.12">10<tspan font-size="7.5" dy="-4.0">1</tspan></text>
<path d="M175.57,446.45V451.75" stroke="#4a4a4a" stroke-width="1"/>
<text transform="translate(175.57,463.45) scale(1,1.04)" text-anchor="middle" font-size="10.5" fill="#333" stroke="#333" stroke-width="0.12">10<tspan font-size="7.5" dy="-4.0">2</tspan></text>
<path d="M218.20,446.45V451.75" stroke="#4a4a4a" stroke-width="1"/>
<text transform="translate(218.20,463.45) scale(1,1.04)" text-anchor="middle" font-size="10.5" fill="#333" stroke="#333" stroke-width="0.12">10<tspan font-size="7.5" dy="-4.0">3</tspan></text>
<text transform="translate(154.25,478.20) scale(1,1.04)" text-anchor="middle" font-size="10.7" fill="#333" stroke="#333" stroke-width="0.12">Frequency (kHz)</text>
<text transform="translate(60.00,381.05) rotate(-90) scale(1,1.04)" text-anchor="middle" font-size="10.55" fill="#333" stroke="#333" stroke-width="0.05">Phase (degrees)</text>
<text transform="translate(33.10,299.00) scale(1,1.07)" font-size="20" fill="#000">D</text>
<circle cx="99.9" cy="321.1" r="2.9" fill="#000"/>
<rect x="97.0" y="330.6" width="5.8" height="5.8" fill="#f00"/>
<text transform="translate(113.90,324.60) scale(1,1.04)" font-size="10.6" fill="#333" stroke="#333" stroke-width="0.12">WT</text>
<text transform="translate(113.90,337.80) scale(1,1.04)" font-size="10.5" fill="#333" stroke="#333" stroke-width="0.12">SOD1<tspan font-size="8.1" dy="-4.6">G93A</tspan></text>
<path d="M90.30,437.00V438.36M87.70,437.00h5.2M87.70,438.36h5.2" stroke="#333" stroke-width="0.9" fill="none"/>
<circle cx="90.30" cy="437.68" r="3.0" fill="#000"/>
<path d="M94.56,436.45V437.89M91.96,436.45h5.2M91.96,437.89h5.2" stroke="#333" stroke-width="0.9" fill="none"/>
<circle cx="94.56" cy="437.17" r="3.0" fill="#000"/>
<path d="M98.83,435.47V436.99M96.23,435.47h5.2M96.23,436.99h5.2" stroke="#333" stroke-width="0.9" fill="none"/>
<circle cx="98.83" cy="436.23" r="3.0" fill="#000"/>
<path d="M103.09,434.32V435.92M100.49,434.32h5.2M100.49,435.92h5.2" stroke="#333" stroke-width="0.9" fill="none"/>
<circle cx="103.09" cy="435.12" r="3.0" fill="#000"/>
<path d="M107.35,433.01V434.69M104.75,433.01h5.2M104.75,434.69h5.2" stroke="#333" stroke-width="0.9" fill="none"/>
<circle cx="107.35" cy="433.85" r="3.0" fill="#000"/>
<path d="M111.62,431.69V433.45M109.02,431.69h5.2M109.02,433.45h5.2" stroke="#333" stroke-width="0.9" fill="none"/>
<circle cx="111.62" cy="432.57" r="3.0" fill="#000"/>
<path d="M115.88,429.94V431.78M113.28,429.94h5.2M113.28,431.78h5.2" stroke="#333" stroke-width="0.9" fill="none"/>
<circle cx="115.88" cy="430.86" r="3.0" fill="#000"/>
<path d="M120.14,427.95V429.87M117.54,427.95h5.2M117.54,429.87h5.2" stroke="#333" stroke-width="0.9" fill="none"/>
<circle cx="120.14" cy="428.91" r="3.0" fill="#000"/>
<path d="M124.41,425.86V427.86M121.81,425.86h5.2M121.81,427.86h5.2" stroke="#333" stroke-width="0.9" fill="none"/>
<circle cx="124.41" cy="426.86" r="3.0" fill="#000"/>
<path d="M128.67,423.27V425.35M126.07,423.27h5.2M126.07,425.35h5.2" stroke="#333" stroke-width="0.9" fill="none"/>
<circle cx="128.67" cy="424.31" r="3.0" fill="#000"/>
<path d="M132.93,421.10V423.26M130.33,421.10h5.2M130.33,423.26h5.2" stroke="#333" stroke-width="0.9" fill="none"/>
<circle cx="132.93" cy="422.18" r="3.0" fill="#000"/>
<path d="M137.20,418.93V421.17M134.60,418.93h5.2M134.60,421.17h5.2" stroke="#333" stroke-width="0.9" fill="none"/>
<circle cx="137.20" cy="420.05" r="3.0" fill="#000"/>
<path d="M141.46,416.34V418.65M138.86,416.34h5.2M138.86,418.65h5.2" stroke="#333" stroke-width="0.9" fill="none"/>
<circle cx="141.46" cy="417.49" r="3.0" fill="#000"/>
<path d="M145.72,413.57V415.97M143.12,413.57h5.2M143.12,415.97h5.2" stroke="#333" stroke-width="0.9" fill="none"/>
<circle cx="145.72" cy="414.77" r="3.0" fill="#000"/>
<path d="M149.99,410.72V413.20M147.39,410.72h5.2M147.39,413.20h5.2" stroke="#333" stroke-width="0.9" fill="none"/>
<circle cx="149.99" cy="411.96" r="3.0" fill="#000"/>
<path d="M154.25,407.70V410.25M151.65,407.70h5.2M151.65,410.25h5.2" stroke="#333" stroke-width="0.9" fill="none"/>
<circle cx="154.25" cy="408.98" r="3.0" fill="#000"/>
<path d="M158.51,405.39V408.31M155.91,405.39h5.2M155.91,408.31h5.2" stroke="#333" stroke-width="0.9" fill="none"/>
<circle cx="158.51" cy="406.85" r="3.0" fill="#000"/>
<path d="M162.78,402.39V405.68M160.18,402.39h5.2M160.18,405.68h5.2" stroke="#333" stroke-width="0.9" fill="none"/>
<circle cx="162.78" cy="404.04" r="3.0" fill="#000"/>
<path d="M167.04,399.49V403.14M164.44,399.49h5.2M164.44,403.14h5.2" stroke="#333" stroke-width="0.9" fill="none"/>
<circle cx="167.04" cy="401.31" r="3.0" fill="#000"/>
<path d="M171.30,396.32V400.34M168.70,396.32h5.2M168.70,400.34h5.2" stroke="#333" stroke-width="0.9" fill="none"/>
<circle cx="171.30" cy="398.33" r="3.0" fill="#000"/>
<path d="M175.57,392.90V397.28M172.97,392.90h5.2M172.97,397.28h5.2" stroke="#333" stroke-width="0.9" fill="none"/>
<circle cx="175.57" cy="395.09" r="3.0" fill="#000"/>
<path d="M179.83,389.49V394.23M177.23,389.49h5.2M177.23,394.23h5.2" stroke="#333" stroke-width="0.9" fill="none"/>
<circle cx="179.83" cy="391.86" r="3.0" fill="#000"/>
<path d="M184.09,385.81V390.92M181.49,385.81h5.2M181.49,390.92h5.2" stroke="#333" stroke-width="0.9" fill="none"/>
<circle cx="184.09" cy="388.37" r="3.0" fill="#000"/>
<path d="M188.36,381.49V387.24M185.76,381.49h5.2M185.76,387.24h5.2" stroke="#333" stroke-width="0.9" fill="none"/>
<circle cx="188.36" cy="384.36" r="3.0" fill="#000"/>
<path d="M192.62,377.59V383.98M190.02,377.59h5.2M190.02,383.98h5.2" stroke="#333" stroke-width="0.9" fill="none"/>
<circle cx="192.62" cy="380.79" r="3.0" fill="#000"/>
<path d="M196.88,372.67V379.70M194.28,372.67h5.2M194.28,379.70h5.2" stroke="#333" stroke-width="0.9" fill="none"/>
<circle cx="196.88" cy="376.19" r="3.0" fill="#000"/>
<path d="M201.15,367.07V374.74M198.55,367.07h5.2M198.55,374.74h5.2" stroke="#333" stroke-width="0.9" fill="none"/>
<circle cx="201.15" cy="370.91" r="3.0" fill="#000"/>
<path d="M205.41,361.24V369.33M202.81,361.24h5.2M202.81,369.33h5.2" stroke="#333" stroke-width="0.9" fill="none"/>
<circle cx="205.41" cy="365.29" r="3.0" fill="#000"/>
<path d="M209.67,354.38V362.90M207.07,354.38h5.2M207.07,362.90h5.2" stroke="#333" stroke-width="0.9" fill="none"/>
<circle cx="209.67" cy="358.64" r="3.0" fill="#000"/>
<path d="M213.94,346.42V355.36M211.34,346.42h5.2M211.34,355.36h5.2" stroke="#333" stroke-width="0.9" fill="none"/>
<circle cx="213.94" cy="350.89" r="3.0" fill="#000"/>
<path d="M218.20,337.61V346.98M215.60,337.61h5.2M215.60,346.98h5.2" stroke="#333" stroke-width="0.9" fill="none"/>
<circle cx="218.20" cy="342.29" r="3.0" fill="#000"/>
<path d="M90.30,437.93V439.30M87.70,437.93h5.2M87.70,439.30h5.2" stroke="#f22" stroke-width="0.85" fill="none"/>
<rect x="87.40" y="435.71" width="5.8" height="5.8" fill="#f00"/>
<path d="M94.56,437.30V438.74M91.96,437.30h5.2M91.96,438.74h5.2" stroke="#f22" stroke-width="0.85" fill="none"/>
<rect x="91.66" y="435.12" width="5.8" height="5.8" fill="#f00"/>
<path d="M98.83,436.58V438.10M96.23,436.58h5.2M96.23,438.10h5.2" stroke="#f22" stroke-width="0.85" fill="none"/>
<rect x="95.93" y="434.44" width="5.8" height="5.8" fill="#f00"/>
<path d="M103.09,435.51V437.12M100.49,435.51h5.2M100.49,437.12h5.2" stroke="#f22" stroke-width="0.85" fill="none"/>
<rect x="100.19" y="433.42" width="5.8" height="5.8" fill="#f00"/>
<path d="M107.35,434.54V436.22M104.75,434.54h5.2M104.75,436.22h5.2" stroke="#f22" stroke-width="0.85" fill="none"/>
<rect x="104.45" y="432.48" width="5.8" height="5.8" fill="#f00"/>
<path d="M111.62,433.31V435.07M109.02,433.31h5.2M109.02,435.07h5.2" stroke="#f22" stroke-width="0.85" fill="none"/>
<rect x="108.72" y="431.29" width="5.8" height="5.8" fill="#f00"/>
<path d="M115.88,431.65V433.49M113.28,431.65h5.2M113.28,433.49h5.2" stroke="#f22" stroke-width="0.85" fill="none"/>
<rect x="112.98" y="429.67" width="5.8" height="5.8" fill="#f00"/>
<path d="M120.14,429.90V431.82M117.54,429.90h5.2M117.54,431.82h5.2" stroke="#f22" stroke-width="0.85" fill="none"/>
<rect x="117.24" y="427.96" width="5.8" height="5.8" fill="#f00"/>
<path d="M124.41,427.99V429.99M121.81,427.99h5.2M121.81,429.99h5.2" stroke="#f22" stroke-width="0.85" fill="none"/>
<rect x="121.51" y="426.09" width="5.8" height="5.8" fill="#f00"/>
<path d="M128.67,425.57V427.65M126.07,425.57h5.2M126.07,427.65h5.2" stroke="#f22" stroke-width="0.85" fill="none"/>
<rect x="125.77" y="423.71" width="5.8" height="5.8" fill="#f00"/>
<path d="M132.93,422.80V424.96M130.33,422.80h5.2M130.33,424.96h5.2" stroke="#f22" stroke-width="0.85" fill="none"/>
<rect x="130.03" y="420.98" width="5.8" height="5.8" fill="#f00"/>
<path d="M137.20,419.78V422.02M134.60,419.78h5.2M134.60,422.02h5.2" stroke="#f22" stroke-width="0.85" fill="none"/>
<rect x="134.30" y="418.00" width="5.8" height="5.8" fill="#f00"/>
<path d="M141.46,416.76V419.08M138.86,416.76h5.2M138.86,419.08h5.2" stroke="#f22" stroke-width="0.85" fill="none"/>
<rect x="138.56" y="415.02" width="5.8" height="5.8" fill="#f00"/>
<path d="M145.72,413.57V415.97M143.12,413.57h5.2M143.12,415.97h5.2" stroke="#f22" stroke-width="0.85" fill="none"/>
<rect x="142.82" y="411.87" width="5.8" height="5.8" fill="#f00"/>
<path d="M149.99,410.29V412.77M147.39,410.29h5.2M147.39,412.77h5.2" stroke="#f22" stroke-width="0.85" fill="none"/>
<rect x="147.09" y="408.63" width="5.8" height="5.8" fill="#f00"/>
<path d="M154.25,406.93V409.49M151.65,406.93h5.2M151.65,409.49h5.2" stroke="#f22" stroke-width="0.85" fill="none"/>
<rect x="151.35" y="405.31" width="5.8" height="5.8" fill="#f00"/>
<path d="M158.51,403.66V406.63M155.91,403.66h5.2M155.91,406.63h5.2" stroke="#f22" stroke-width="0.85" fill="none"/>
<rect x="155.61" y="402.24" width="5.8" height="5.8" fill="#f00"/>
<path d="M162.78,400.05V403.43M160.18,400.05h5.2M160.18,403.43h5.2" stroke="#f22" stroke-width="0.85" fill="none"/>
<rect x="159.88" y="398.84" width="5.8" height="5.8" fill="#f00"/>
<path d="M167.04,396.43V400.23M164.44,396.43h5.2M164.44,400.23h5.2" stroke="#f22" stroke-width="0.85" fill="none"/>
<rect x="164.14" y="395.43" width="5.8" height="5.8" fill="#f00"/>
<path d="M171.30,392.82V397.03M168.70,392.82h5.2M168.70,397.03h5.2" stroke="#f22" stroke-width="0.85" fill="none"/>
<rect x="168.40" y="392.02" width="5.8" height="5.8" fill="#f00"/>
<path d="M175.57,388.78V393.40M172.97,388.78h5.2M172.97,393.40h5.2" stroke="#f22" stroke-width="0.85" fill="none"/>
<rect x="172.67" y="388.19" width="5.8" height="5.8" fill="#f00"/>
<path d="M179.83,384.31V389.35M177.23,384.31h5.2M177.23,389.35h5.2" stroke="#f22" stroke-width="0.85" fill="none"/>
<rect x="176.93" y="383.93" width="5.8" height="5.8" fill="#f00"/>
<path d="M184.09,379.85V385.30M181.49,379.85h5.2M181.49,385.30h5.2" stroke="#f22" stroke-width="0.85" fill="none"/>
<rect x="181.19" y="379.68" width="5.8" height="5.8" fill="#f00"/>
<path d="M188.36,374.51V380.76M185.76,374.51h5.2M185.76,380.76h5.2" stroke="#f22" stroke-width="0.85" fill="none"/>
<rect x="185.46" y="374.74" width="5.8" height="5.8" fill="#f00"/>
<path d="M192.62,369.43V376.47M190.02,369.43h5.2M190.02,376.47h5.2" stroke="#f22" stroke-width="0.85" fill="none"/>
<rect x="189.72" y="370.05" width="5.8" height="5.8" fill="#f00"/>
<path d="M196.88,364.52V372.35M194.28,364.52h5.2M194.28,372.35h5.2" stroke="#f22" stroke-width="0.85" fill="none"/>
<rect x="193.98" y="365.54" width="5.8" height="5.8" fill="#f00"/>
<path d="M201.15,358.10V366.51M198.55,358.10h5.2M198.55,366.51h5.2" stroke="#f22" stroke-width="0.85" fill="none"/>
<rect x="198.25" y="359.41" width="5.8" height="5.8" fill="#f00"/>
<path d="M205.41,351.01V359.98M202.81,351.01h5.2M202.81,359.98h5.2" stroke="#f22" stroke-width="0.85" fill="none"/>
<rect x="202.51" y="352.59" width="5.8" height="5.8" fill="#f00"/>
<path d="M209.67,343.65V353.19M207.07,343.65h5.2M207.07,353.19h5.2" stroke="#f22" stroke-width="0.85" fill="none"/>
<rect x="206.77" y="345.52" width="5.8" height="5.8" fill="#f00"/>
<path d="M213.94,340.93V350.47M211.34,340.93h5.2M211.34,350.47h5.2" stroke="#f22" stroke-width="0.85" fill="none"/>
<rect x="211.04" y="342.80" width="5.8" height="5.8" fill="#f00"/>
<path d="M218.20,331.22V343.14M215.60,331.22h5.2M215.60,343.14h5.2" stroke="#f22" stroke-width="0.85" fill="none"/>
<rect x="215.30" y="334.28" width="5.8" height="5.8" fill="#f00"/>
<path d="M304.90,317.05V445.45H432.60" fill="none" stroke="#4a4a4a" stroke-width="1"/>
<path d="M299.90,445.45H304.90" stroke="#4a4a4a" stroke-width="1"/>
<text transform="translate(298.10,449.20) scale(1,1.04)" text-anchor="end" font-size="10.5" fill="#333" stroke="#333" stroke-width="0.12">0</text>
<path d="M299.90,419.77H304.90" stroke="#4a4a4a" stroke-width="1"/>
<text transform="translate(298.10,423.52) scale(1,1.04)" text-anchor="end" font-size="10.5" fill="#333" stroke="#333" stroke-width="0.12">200</text>
<path d="M299.90,394.09H304.90" stroke="#4a4a4a" stroke-width="1"/>
<text transform="translate(298.10,397.84) scale(1,1.04)" text-anchor="end" font-size="10.5" fill="#333" stroke="#333" stroke-width="0.12">400</text>
<path d="M299.90,368.41H304.90" stroke="#4a4a4a" stroke-width="1"/>
<text transform="translate(298.10,372.16) scale(1,1.04)" text-anchor="end" font-size="10.5" fill="#333" stroke="#333" stroke-width="0.12">600</text>
<path d="M299.90,342.73H304.90" stroke="#4a4a4a" stroke-width="1"/>
<text transform="translate(298.10,346.48) scale(1,1.04)" text-anchor="end" font-size="10.5" fill="#333" stroke="#333" stroke-width="0.12">800</text>
<path d="M299.90,317.05H304.90" stroke="#4a4a4a" stroke-width="1"/>
<text transform="translate(298.10,320.80) scale(1,1.04)" text-anchor="end" font-size="10.5" fill="#333" stroke="#333" stroke-width="0.12">1000</text>
<path d="M304.90,445.45V450.75" stroke="#4a4a4a" stroke-width="1"/>
<text transform="translate(304.90,462.45) scale(1,1.04)" text-anchor="middle" font-size="10.5" fill="#333" stroke="#333" stroke-width="0.12">10<tspan font-size="7.5" dy="-4.0">0</tspan></text>
<path d="M347.47,445.45V450.75" stroke="#4a4a4a" stroke-width="1"/>
<text transform="translate(347.47,462.45) scale(1,1.04)" text-anchor="middle" font-size="10.5" fill="#333" stroke="#333" stroke-width="0.12">10<tspan font-size="7.5" dy="-4.0">1</tspan></text>
<path d="M390.03,445.45V450.75" stroke="#4a4a4a" stroke-width="1"/>
<text transform="translate(390.03,462.45) scale(1,1.04)" text-anchor="middle" font-size="10.5" fill="#333" stroke="#333" stroke-width="0.12">10<tspan font-size="7.5" dy="-4.0">2</tspan></text>
<path d="M432.60,445.45V450.75" stroke="#4a4a4a" stroke-width="1"/>
<text transform="translate(432.60,462.45) scale(1,1.04)" text-anchor="middle" font-size="10.5" fill="#333" stroke="#333" stroke-width="0.12">10<tspan font-size="7.5" dy="-4.0">3</tspan></text>
<text transform="translate(368.75,476.85) scale(1,1.04)" text-anchor="middle" font-size="10.7" fill="#333" stroke="#333" stroke-width="0.12">Frequency (kHz)</text>
<text transform="translate(268.80,379.90) rotate(-90) scale(1,1.04)" text-anchor="middle" font-size="10.85" fill="#333" stroke="#333" stroke-width="0.05">Reactance (ohms)</text>
<text transform="translate(243.80,299.50) scale(1,1.07)" font-size="20" fill="#000">E</text>
<circle cx="313.7" cy="320.1" r="2.9" fill="#000"/>
<rect x="310.8" y="329.90000000000003" width="5.8" height="5.8" fill="#f00"/>
<text transform="translate(328.30,323.50) scale(1,1.04)" font-size="10.6" fill="#333" stroke="#333" stroke-width="0.12">WT</text>
<text transform="translate(328.30,336.60) scale(1,1.04)" font-size="10.5" fill="#333" stroke="#333" stroke-width="0.12">SOD1<tspan font-size="8.1" dy="-4.6">G93A</tspan></text>
<path d="M304.90,383.56V400.25M302.30,383.56h5.2M302.30,400.25h5.2" stroke="#333" stroke-width="0.9" fill="none"/>
<circle cx="304.90" cy="391.91" r="3.0" fill="#000"/>
<path d="M309.16,378.55V395.76M306.56,378.55h5.2M306.56,395.76h5.2" stroke="#333" stroke-width="0.9" fill="none"/>
<circle cx="309.16" cy="387.16" r="3.0" fill="#000"/>
<path d="M313.41,372.78V390.49M310.81,372.78h5.2M310.81,390.49h5.2" stroke="#333" stroke-width="0.9" fill="none"/>
<circle cx="313.41" cy="381.64" r="3.0" fill="#000"/>
<path d="M317.67,366.87V385.10M315.07,366.87h5.2M315.07,385.10h5.2" stroke="#333" stroke-width="0.9" fill="none"/>
<circle cx="317.67" cy="375.99" r="3.0" fill="#000"/>
<path d="M321.93,361.09V379.84M319.33,361.09h5.2M319.33,379.84h5.2" stroke="#333" stroke-width="0.9" fill="none"/>
<circle cx="321.93" cy="370.46" r="3.0" fill="#000"/>
<path d="M326.18,355.57V374.83M323.58,355.57h5.2M323.58,374.83h5.2" stroke="#333" stroke-width="0.9" fill="none"/>
<circle cx="326.18" cy="365.20" r="3.0" fill="#000"/>
<path d="M330.44,351.72V370.21M327.84,351.72h5.2M327.84,370.21h5.2" stroke="#333" stroke-width="0.9" fill="none"/>
<circle cx="330.44" cy="360.96" r="3.0" fill="#000"/>
<path d="M334.70,347.74V365.46M332.10,347.74h5.2M332.10,365.46h5.2" stroke="#333" stroke-width="0.9" fill="none"/>
<circle cx="334.70" cy="356.60" r="3.0" fill="#000"/>
<path d="M338.95,344.91V361.86M336.35,344.91h5.2M336.35,361.86h5.2" stroke="#333" stroke-width="0.9" fill="none"/>
<circle cx="338.95" cy="353.39" r="3.0" fill="#000"/>
<path d="M343.21,342.99V359.17M340.61,342.99h5.2M340.61,359.17h5.2" stroke="#333" stroke-width="0.9" fill="none"/>
<circle cx="343.21" cy="351.08" r="3.0" fill="#000"/>
<path d="M347.47,342.09V357.50M344.87,342.09h5.2M344.87,357.50h5.2" stroke="#333" stroke-width="0.9" fill="none"/>
<circle cx="347.47" cy="349.79" r="3.0" fill="#000"/>
<path d="M351.72,342.41V357.17M349.12,342.41h5.2M349.12,357.17h5.2" stroke="#333" stroke-width="0.9" fill="none"/>
<circle cx="351.72" cy="349.79" r="3.0" fill="#000"/>
<path d="M355.98,344.40V358.52M353.38,344.40h5.2M353.38,358.52h5.2" stroke="#333" stroke-width="0.9" fill="none"/>
<circle cx="355.98" cy="351.46" r="3.0" fill="#000"/>
<path d="M360.24,347.87V359.94M357.64,347.87h5.2M357.64,359.94h5.2" stroke="#333" stroke-width="0.9" fill="none"/>
<circle cx="360.24" cy="353.90" r="3.0" fill="#000"/>
<path d="M364.49,353.39V361.86M361.89,353.39h5.2M361.89,361.86h5.2" stroke="#333" stroke-width="0.9" fill="none"/>
<circle cx="364.49" cy="357.62" r="3.0" fill="#000"/>
<path d="M368.75,358.14V365.84M366.15,358.14h5.2M366.15,365.84h5.2" stroke="#333" stroke-width="0.9" fill="none"/>
<circle cx="368.75" cy="361.99" r="3.0" fill="#000"/>
<path d="M373.01,364.04V369.95M370.41,364.04h5.2M370.41,369.95h5.2" stroke="#333" stroke-width="0.9" fill="none"/>
<circle cx="373.01" cy="367.00" r="3.0" fill="#000"/>
<path d="M377.26,369.66V374.86M374.66,369.66h5.2M374.66,374.86h5.2" stroke="#333" stroke-width="0.9" fill="none"/>
<circle cx="377.26" cy="372.26" r="3.0" fill="#000"/>
<path d="M381.52,376.31V380.80M378.92,376.31h5.2M378.92,380.80h5.2" stroke="#333" stroke-width="0.9" fill="none"/>
<circle cx="381.52" cy="378.55" r="3.0" fill="#000"/>
<path d="M385.78,382.57V386.35M383.18,382.57h5.2M383.18,386.35h5.2" stroke="#333" stroke-width="0.9" fill="none"/>
<circle cx="385.78" cy="384.46" r="3.0" fill="#000"/>
<path d="M390.03,388.83V391.91M387.43,388.83h5.2M387.43,391.91h5.2" stroke="#333" stroke-width="0.9" fill="none"/>
<circle cx="390.03" cy="390.37" r="3.0" fill="#000"/>
<path d="M394.29,394.68V397.61M391.69,394.68h5.2M391.69,397.61h5.2" stroke="#333" stroke-width="0.9" fill="none"/>
<circle cx="394.29" cy="396.14" r="3.0" fill="#000"/>
<path d="M398.55,400.41V403.18M395.95,400.41h5.2M395.95,403.18h5.2" stroke="#333" stroke-width="0.9" fill="none"/>
<circle cx="398.55" cy="401.79" r="3.0" fill="#000"/>
<path d="M402.80,405.62V408.24M400.20,405.62h5.2M400.20,408.24h5.2" stroke="#333" stroke-width="0.9" fill="none"/>
<circle cx="402.80" cy="406.93" r="3.0" fill="#000"/>
<path d="M407.06,410.58V413.04M404.46,410.58h5.2M404.46,413.04h5.2" stroke="#333" stroke-width="0.9" fill="none"/>
<circle cx="407.06" cy="411.81" r="3.0" fill="#000"/>
<path d="M411.32,415.15V417.46M408.72,415.15h5.2M408.72,417.46h5.2" stroke="#333" stroke-width="0.9" fill="none"/>
<circle cx="411.32" cy="416.30" r="3.0" fill="#000"/>
<path d="M415.57,419.33V421.49M412.97,419.33h5.2M412.97,421.49h5.2" stroke="#333" stroke-width="0.9" fill="none"/>
<circle cx="415.57" cy="420.41" r="3.0" fill="#000"/>
<path d="M419.83,422.62V424.62M417.23,422.62h5.2M417.23,424.62h5.2" stroke="#333" stroke-width="0.9" fill="none"/>
<circle cx="419.83" cy="423.62" r="3.0" fill="#000"/>
<path d="M424.09,426.29V428.14M421.49,426.29h5.2M421.49,428.14h5.2" stroke="#333" stroke-width="0.9" fill="none"/>
<circle cx="424.09" cy="427.22" r="3.0" fill="#000"/>
<path d="M428.34,429.58V431.27M425.74,429.58h5.2M425.74,431.27h5.2" stroke="#333" stroke-width="0.9" fill="none"/>
<circle cx="428.34" cy="430.43" r="3.0" fill="#000"/>
<path d="M432.60,432.48V434.02M430.00,432.48h5.2M430.00,434.02h5.2" stroke="#333" stroke-width="0.9" fill="none"/>
<circle cx="432.60" cy="433.25" r="3.0" fill="#000"/>
<path d="M304.90,402.31V412.58M302.30,402.31h5.2M302.30,412.58h5.2" stroke="#f22" stroke-width="0.85" fill="none"/>
<rect x="302.00" y="404.54" width="5.8" height="5.8" fill="#f00"/>
<path d="M309.16,399.66V409.83M306.56,399.66h5.2M306.56,409.83h5.2" stroke="#f22" stroke-width="0.85" fill="none"/>
<rect x="306.26" y="401.85" width="5.8" height="5.8" fill="#f00"/>
<path d="M313.41,396.89V406.95M310.81,396.89h5.2M310.81,406.95h5.2" stroke="#f22" stroke-width="0.85" fill="none"/>
<rect x="310.51" y="399.02" width="5.8" height="5.8" fill="#f00"/>
<path d="M317.67,393.61V403.56M315.07,393.61h5.2M315.07,403.56h5.2" stroke="#f22" stroke-width="0.85" fill="none"/>
<rect x="314.77" y="395.68" width="5.8" height="5.8" fill="#f00"/>
<path d="M321.93,389.81V399.65M319.33,389.81h5.2M319.33,399.65h5.2" stroke="#f22" stroke-width="0.85" fill="none"/>
<rect x="319.03" y="391.83" width="5.8" height="5.8" fill="#f00"/>
<path d="M326.18,385.37V395.11M323.58,385.37h5.2M323.58,395.11h5.2" stroke="#f22" stroke-width="0.85" fill="none"/>
<rect x="323.28" y="387.34" width="5.8" height="5.8" fill="#f00"/>
<path d="M330.44,380.42V390.05M327.84,380.42h5.2M327.84,390.05h5.2" stroke="#f22" stroke-width="0.85" fill="none"/>
<rect x="327.54" y="382.33" width="5.8" height="5.8" fill="#f00"/>
<path d="M334.70,375.08V384.60M332.10,375.08h5.2M332.10,384.60h5.2" stroke="#f22" stroke-width="0.85" fill="none"/>
<rect x="331.80" y="376.94" width="5.8" height="5.8" fill="#f00"/>
<path d="M338.95,369.99V379.41M336.35,369.99h5.2M336.35,379.41h5.2" stroke="#f22" stroke-width="0.85" fill="none"/>
<rect x="336.05" y="371.80" width="5.8" height="5.8" fill="#f00"/>
<path d="M343.21,365.42V374.73M340.61,365.42h5.2M340.61,374.73h5.2" stroke="#f22" stroke-width="0.85" fill="none"/>
<rect x="340.31" y="367.18" width="5.8" height="5.8" fill="#f00"/>
<path d="M347.47,362.01V371.21M344.87,362.01h5.2M344.87,371.21h5.2" stroke="#f22" stroke-width="0.85" fill="none"/>
<rect x="344.57" y="363.71" width="5.8" height="5.8" fill="#f00"/>
<path d="M351.72,360.14V369.23M349.12,360.14h5.2M349.12,369.23h5.2" stroke="#f22" stroke-width="0.85" fill="none"/>
<rect x="348.82" y="361.79" width="5.8" height="5.8" fill="#f00"/>
<path d="M355.98,360.06V369.05M353.38,360.06h5.2M353.38,369.05h5.2" stroke="#f22" stroke-width="0.85" fill="none"/>
<rect x="353.08" y="361.66" width="5.8" height="5.8" fill="#f00"/>
<path d="M360.24,361.80V370.14M357.64,361.80h5.2M357.64,370.14h5.2" stroke="#f22" stroke-width="0.85" fill="none"/>
<rect x="357.34" y="363.07" width="5.8" height="5.8" fill="#f00"/>
<path d="M364.49,365.07V372.78M361.89,365.07h5.2M361.89,372.78h5.2" stroke="#f22" stroke-width="0.85" fill="none"/>
<rect x="361.59" y="366.02" width="5.8" height="5.8" fill="#f00"/>
<path d="M368.75,368.99V376.05M366.15,368.99h5.2M366.15,376.05h5.2" stroke="#f22" stroke-width="0.85" fill="none"/>
<rect x="365.85" y="369.62" width="5.8" height="5.8" fill="#f00"/>
<path d="M373.01,373.16V379.58M370.41,373.16h5.2M370.41,379.58h5.2" stroke="#f22" stroke-width="0.85" fill="none"/>
<rect x="370.11" y="373.47" width="5.8" height="5.8" fill="#f00"/>
<path d="M377.26,378.75V384.52M374.66,378.75h5.2M374.66,384.52h5.2" stroke="#f22" stroke-width="0.85" fill="none"/>
<rect x="374.36" y="378.74" width="5.8" height="5.8" fill="#f00"/>
<path d="M381.52,384.72V389.85M378.92,384.72h5.2M378.92,389.85h5.2" stroke="#f22" stroke-width="0.85" fill="none"/>
<rect x="378.62" y="384.38" width="5.8" height="5.8" fill="#f00"/>
<path d="M385.78,390.05V394.54M383.18,390.05h5.2M383.18,394.54h5.2" stroke="#f22" stroke-width="0.85" fill="none"/>
<rect x="382.88" y="389.39" width="5.8" height="5.8" fill="#f00"/>
<path d="M390.03,395.50V399.35M387.43,395.50h5.2M387.43,399.35h5.2" stroke="#f22" stroke-width="0.85" fill="none"/>
<rect x="387.13" y="394.53" width="5.8" height="5.8" fill="#f00"/>
<path d="M394.29,401.47V404.68M391.69,401.47h5.2M391.69,404.68h5.2" stroke="#f22" stroke-width="0.85" fill="none"/>
<rect x="391.39" y="400.18" width="5.8" height="5.8" fill="#f00"/>
<path d="M398.55,406.80V409.37M395.95,406.80h5.2M395.95,409.37h5.2" stroke="#f22" stroke-width="0.85" fill="none"/>
<rect x="395.65" y="405.19" width="5.8" height="5.8" fill="#f00"/>
<path d="M402.80,412.02V414.43M400.20,412.02h5.2M400.20,414.43h5.2" stroke="#f22" stroke-width="0.85" fill="none"/>
<rect x="399.90" y="410.32" width="5.8" height="5.8" fill="#f00"/>
<path d="M407.06,416.59V418.84M404.46,416.59h5.2M404.46,418.84h5.2" stroke="#f22" stroke-width="0.85" fill="none"/>
<rect x="404.16" y="414.82" width="5.8" height="5.8" fill="#f00"/>
<path d="M411.32,421.29V423.38M408.72,421.29h5.2M408.72,423.38h5.2" stroke="#f22" stroke-width="0.85" fill="none"/>
<rect x="408.42" y="419.44" width="5.8" height="5.8" fill="#f00"/>
<path d="M415.57,425.23V427.15M412.97,425.23h5.2M412.97,427.15h5.2" stroke="#f22" stroke-width="0.85" fill="none"/>
<rect x="412.67" y="423.29" width="5.8" height="5.8" fill="#f00"/>
<path d="M419.83,428.90V430.67M417.23,428.90h5.2M417.23,430.67h5.2" stroke="#f22" stroke-width="0.85" fill="none"/>
<rect x="416.93" y="426.89" width="5.8" height="5.8" fill="#f00"/>
<path d="M424.09,432.06V433.67M421.49,432.06h5.2M421.49,433.67h5.2" stroke="#f22" stroke-width="0.85" fill="none"/>
<rect x="421.19" y="429.97" width="5.8" height="5.8" fill="#f00"/>
<path d="M428.34,434.46V435.90M425.74,434.46h5.2M425.74,435.90h5.2" stroke="#f22" stroke-width="0.85" fill="none"/>
<rect x="425.44" y="432.28" width="5.8" height="5.8" fill="#f00"/>
<path d="M432.60,436.72V438.00M430.00,436.72h5.2M430.00,438.00h5.2" stroke="#f22" stroke-width="0.85" fill="none"/>
<rect x="429.70" y="434.46" width="5.8" height="5.8" fill="#f00"/>
<path d="M506.70,317.20V445.30H635.00" fill="none" stroke="#4a4a4a" stroke-width="1"/>
<path d="M501.70,445.30H506.70" stroke="#4a4a4a" stroke-width="1"/>
<text transform="translate(499.90,449.05) scale(1,1.04)" text-anchor="end" font-size="10.5" fill="#333" stroke="#333" stroke-width="0.12">0</text>
<path d="M501.70,402.60H506.70" stroke="#4a4a4a" stroke-width="1"/>
<text transform="translate(499.90,406.35) scale(1,1.04)" text-anchor="end" font-size="10.5" fill="#333" stroke="#333" stroke-width="0.12">1000</text>
<path d="M501.70,359.90H506.70" stroke="#4a4a4a" stroke-width="1"/>
<text transform="translate(499.90,363.65) scale(1,1.04)" text-anchor="end" font-size="10.5" fill="#333" stroke="#333" stroke-width="0.12">2000</text>
<path d="M501.70,317.20H506.70" stroke="#4a4a4a" stroke-width="1"/>
<text transform="translate(499.90,320.95) scale(1,1.04)" text-anchor="end" font-size="10.5" fill="#333" stroke="#333" stroke-width="0.12">3000</text>
<path d="M506.70,445.30V450.60" stroke="#4a4a4a" stroke-width="1"/>
<text transform="translate(506.70,462.30) scale(1,1.04)" text-anchor="middle" font-size="10.5" fill="#333" stroke="#333" stroke-width="0.12">10<tspan font-size="7.5" dy="-4.0">0</tspan></text>
<path d="M549.47,445.30V450.60" stroke="#4a4a4a" stroke-width="1"/>
<text transform="translate(549.47,462.30) scale(1,1.04)" text-anchor="middle" font-size="10.5" fill="#333" stroke="#333" stroke-width="0.12">10<tspan font-size="7.5" dy="-4.0">1</tspan></text>
<path d="M592.23,445.30V450.60" stroke="#4a4a4a" stroke-width="1"/>
<text transform="translate(592.23,462.30) scale(1,1.04)" text-anchor="middle" font-size="10.5" fill="#333" stroke="#333" stroke-width="0.12">10<tspan font-size="7.5" dy="-4.0">2</tspan></text>
<path d="M635.00,445.30V450.60" stroke="#4a4a4a" stroke-width="1"/>
<text transform="translate(635.00,462.30) scale(1,1.04)" text-anchor="middle" font-size="10.5" fill="#333" stroke="#333" stroke-width="0.12">10<tspan font-size="7.5" dy="-4.0">3</tspan></text>
<text transform="translate(570.85,477.10) scale(1,1.04)" text-anchor="middle" font-size="10.7" fill="#333" stroke="#333" stroke-width="0.12">Frequency (kHz)</text>
<text transform="translate(470.10,380.60) rotate(-90) scale(1,1.04)" text-anchor="middle" font-size="10.85" fill="#333" stroke="#333" stroke-width="0.05">Resistance (ohms)</text>
<text transform="translate(443.50,299.80) scale(1,1.07)" font-size="20" fill="#000">F</text>
<circle cx="517.0" cy="320.4" r="2.9" fill="#000"/>
<rect x="514.1" y="330.40000000000003" width="5.8" height="5.8" fill="#f00"/>
<text transform="translate(531.30,323.90) scale(1,1.04)" font-size="10.6" fill="#333" stroke="#333" stroke-width="0.12">WT</text>
<text transform="translate(531.30,337.60) scale(1,1.04)" font-size="10.5" fill="#333" stroke="#333" stroke-width="0.12">SOD1<tspan font-size="8.1" dy="-4.6">G93A</tspan></text>
<path d="M506.70,345.68V360.20M504.10,345.68h5.2M504.10,360.20h5.2" stroke="#333" stroke-width="0.9" fill="none"/>
<circle cx="506.70" cy="352.94" r="3.0" fill="#000"/>
<path d="M510.98,347.56V361.57M508.38,347.56h5.2M508.38,361.57h5.2" stroke="#333" stroke-width="0.9" fill="none"/>
<circle cx="510.98" cy="354.56" r="3.0" fill="#000"/>
<path d="M515.25,350.08V363.57M512.65,350.08h5.2M512.65,363.57h5.2" stroke="#333" stroke-width="0.9" fill="none"/>
<circle cx="515.25" cy="356.83" r="3.0" fill="#000"/>
<path d="M519.53,352.94V365.92M516.93,352.94h5.2M516.93,365.92h5.2" stroke="#333" stroke-width="0.9" fill="none"/>
<circle cx="519.53" cy="359.43" r="3.0" fill="#000"/>
<path d="M523.81,356.48V368.95M521.21,356.48h5.2M521.21,368.95h5.2" stroke="#333" stroke-width="0.9" fill="none"/>
<circle cx="523.81" cy="362.72" r="3.0" fill="#000"/>
<path d="M528.08,360.33V372.28M525.48,360.33h5.2M525.48,372.28h5.2" stroke="#333" stroke-width="0.9" fill="none"/>
<circle cx="528.08" cy="366.31" r="3.0" fill="#000"/>
<path d="M532.36,365.00V375.81M529.76,365.00h5.2M529.76,375.81h5.2" stroke="#333" stroke-width="0.9" fill="none"/>
<circle cx="532.36" cy="370.40" r="3.0" fill="#000"/>
<path d="M536.64,370.18V379.86M534.04,370.18h5.2M534.04,379.86h5.2" stroke="#333" stroke-width="0.9" fill="none"/>
<circle cx="536.64" cy="375.02" r="3.0" fill="#000"/>
<path d="M540.91,375.66V384.20M538.31,375.66h5.2M538.31,384.20h5.2" stroke="#333" stroke-width="0.9" fill="none"/>
<circle cx="540.91" cy="379.93" r="3.0" fill="#000"/>
<path d="M545.19,381.68V388.51M542.59,381.68h5.2M542.59,388.51h5.2" stroke="#333" stroke-width="0.9" fill="none"/>
<circle cx="545.19" cy="385.09" r="3.0" fill="#000"/>
<path d="M549.47,388.21V393.33M546.87,388.21h5.2M546.87,393.33h5.2" stroke="#333" stroke-width="0.9" fill="none"/>
<circle cx="549.47" cy="390.77" r="3.0" fill="#000"/>
<path d="M553.74,394.44V398.71M551.14,394.44h5.2M551.14,398.71h5.2" stroke="#333" stroke-width="0.9" fill="none"/>
<circle cx="553.74" cy="396.58" r="3.0" fill="#000"/>
<path d="M558.02,400.25V403.67M555.42,400.25h5.2M555.42,403.67h5.2" stroke="#333" stroke-width="0.9" fill="none"/>
<circle cx="558.02" cy="401.96" r="3.0" fill="#000"/>
<path d="M562.30,405.89V408.45M559.70,405.89h5.2M559.70,408.45h5.2" stroke="#333" stroke-width="0.9" fill="none"/>
<circle cx="562.30" cy="407.17" r="3.0" fill="#000"/>
<path d="M566.57,410.85V413.23M563.97,410.85h5.2M563.97,413.23h5.2" stroke="#333" stroke-width="0.9" fill="none"/>
<circle cx="566.57" cy="412.04" r="3.0" fill="#000"/>
<path d="M570.85,415.34V417.53M568.25,415.34h5.2M568.25,417.53h5.2" stroke="#333" stroke-width="0.9" fill="none"/>
<circle cx="570.85" cy="416.43" r="3.0" fill="#000"/>
<path d="M575.13,419.57V421.58M572.53,419.57h5.2M572.53,421.58h5.2" stroke="#333" stroke-width="0.9" fill="none"/>
<circle cx="575.13" cy="420.58" r="3.0" fill="#000"/>
<path d="M579.40,423.55V425.38M576.80,423.55h5.2M576.80,425.38h5.2" stroke="#333" stroke-width="0.9" fill="none"/>
<circle cx="579.40" cy="424.46" r="3.0" fill="#000"/>
<path d="M583.68,427.01V428.66M581.08,427.01h5.2M581.08,428.66h5.2" stroke="#333" stroke-width="0.9" fill="none"/>
<circle cx="583.68" cy="427.84" r="3.0" fill="#000"/>
<path d="M587.96,430.09V431.56M585.36,430.09h5.2M585.36,431.56h5.2" stroke="#333" stroke-width="0.9" fill="none"/>
<circle cx="587.96" cy="430.82" r="3.0" fill="#000"/>
<path d="M592.23,433.00V434.28M589.63,433.00h5.2M589.63,434.28h5.2" stroke="#333" stroke-width="0.9" fill="none"/>
<circle cx="592.23" cy="433.64" r="3.0" fill="#000"/>
<path d="M596.51,435.51V436.72M593.91,435.51h5.2M593.91,436.72h5.2" stroke="#333" stroke-width="0.9" fill="none"/>
<circle cx="596.51" cy="436.12" r="3.0" fill="#000"/>
<path d="M600.79,437.56V438.70M598.19,437.56h5.2M598.19,438.70h5.2" stroke="#333" stroke-width="0.9" fill="none"/>
<circle cx="600.79" cy="438.13" r="3.0" fill="#000"/>
<path d="M605.06,439.56V440.62M602.46,439.56h5.2M602.46,440.62h5.2" stroke="#333" stroke-width="0.9" fill="none"/>
<circle cx="605.06" cy="440.09" r="3.0" fill="#000"/>
<path d="M609.34,441.51V442.51M606.74,441.51h5.2M606.74,442.51h5.2" stroke="#333" stroke-width="0.9" fill="none"/>
<circle cx="609.34" cy="442.01" r="3.0" fill="#000"/>
<path d="M613.62,443.34V444.27M611.02,443.34h5.2M611.02,444.27h5.2" stroke="#333" stroke-width="0.9" fill="none"/>
<circle cx="613.62" cy="443.81" r="3.0" fill="#000"/>
<path d="M617.89,444.87V445.73M615.29,444.87h5.2M615.29,445.73h5.2" stroke="#333" stroke-width="0.9" fill="none"/>
<circle cx="617.89" cy="445.30" r="3.0" fill="#000"/>
<path d="M506.70,368.61V378.86M504.10,368.61h5.2M504.10,378.86h5.2" stroke="#f22" stroke-width="0.85" fill="none"/>
<rect x="503.80" y="370.83" width="5.8" height="5.8" fill="#f00"/>
<path d="M510.98,369.65V379.36M508.38,369.65h5.2M508.38,379.36h5.2" stroke="#f22" stroke-width="0.85" fill="none"/>
<rect x="508.08" y="371.60" width="5.8" height="5.8" fill="#f00"/>
<path d="M515.25,371.24V380.42M512.65,371.24h5.2M512.65,380.42h5.2" stroke="#f22" stroke-width="0.85" fill="none"/>
<rect x="512.35" y="372.93" width="5.8" height="5.8" fill="#f00"/>
<path d="M519.53,372.57V381.22M516.93,372.57h5.2M516.93,381.22h5.2" stroke="#f22" stroke-width="0.85" fill="none"/>
<rect x="516.63" y="373.99" width="5.8" height="5.8" fill="#f00"/>
<path d="M523.81,374.55V382.66M521.21,374.55h5.2M521.21,382.66h5.2" stroke="#f22" stroke-width="0.85" fill="none"/>
<rect x="520.91" y="375.70" width="5.8" height="5.8" fill="#f00"/>
<path d="M528.08,376.91V384.48M525.48,376.91h5.2M525.48,384.48h5.2" stroke="#f22" stroke-width="0.85" fill="none"/>
<rect x="525.18" y="377.79" width="5.8" height="5.8" fill="#f00"/>
<path d="M532.36,379.48V386.52M529.76,379.48h5.2M529.76,386.52h5.2" stroke="#f22" stroke-width="0.85" fill="none"/>
<rect x="529.46" y="380.10" width="5.8" height="5.8" fill="#f00"/>
<path d="M536.64,382.65V389.16M534.04,382.65h5.2M534.04,389.16h5.2" stroke="#f22" stroke-width="0.85" fill="none"/>
<rect x="533.74" y="383.00" width="5.8" height="5.8" fill="#f00"/>
<path d="M540.91,386.59V392.57M538.31,386.59h5.2M538.31,392.57h5.2" stroke="#f22" stroke-width="0.85" fill="none"/>
<rect x="538.01" y="386.68" width="5.8" height="5.8" fill="#f00"/>
<path d="M545.19,391.35V396.77M542.59,391.35h5.2M542.59,396.77h5.2" stroke="#f22" stroke-width="0.85" fill="none"/>
<rect x="542.29" y="391.16" width="5.8" height="5.8" fill="#f00"/>
<path d="M549.47,396.10V400.98M546.87,396.10h5.2M546.87,400.98h5.2" stroke="#f22" stroke-width="0.85" fill="none"/>
<rect x="546.57" y="395.64" width="5.8" height="5.8" fill="#f00"/>
<path d="M553.74,400.95V405.28M551.14,400.95h5.2M551.14,405.28h5.2" stroke="#f22" stroke-width="0.85" fill="none"/>
<rect x="550.84" y="400.21" width="5.8" height="5.8" fill="#f00"/>
<path d="M558.02,406.00V409.79M555.42,406.00h5.2M555.42,409.79h5.2" stroke="#f22" stroke-width="0.85" fill="none"/>
<rect x="555.12" y="404.99" width="5.8" height="5.8" fill="#f00"/>
<path d="M562.30,410.72V413.95M559.70,410.72h5.2M559.70,413.95h5.2" stroke="#f22" stroke-width="0.85" fill="none"/>
<rect x="559.40" y="409.44" width="5.8" height="5.8" fill="#f00"/>
<path d="M566.57,414.96V417.65M563.97,414.96h5.2M563.97,417.65h5.2" stroke="#f22" stroke-width="0.85" fill="none"/>
<rect x="563.67" y="413.41" width="5.8" height="5.8" fill="#f00"/>
<path d="M570.85,419.68V421.81M568.25,419.68h5.2M568.25,421.81h5.2" stroke="#f22" stroke-width="0.85" fill="none"/>
<rect x="567.95" y="417.85" width="5.8" height="5.8" fill="#f00"/>
<path d="M575.13,423.84V425.85M572.53,423.84h5.2M572.53,425.85h5.2" stroke="#f22" stroke-width="0.85" fill="none"/>
<rect x="572.23" y="421.95" width="5.8" height="5.8" fill="#f00"/>
<path d="M579.40,427.49V429.37M576.80,427.49h5.2M576.80,429.37h5.2" stroke="#f22" stroke-width="0.85" fill="none"/>
<rect x="576.50" y="425.53" width="5.8" height="5.8" fill="#f00"/>
<path d="M583.68,430.93V432.68M581.08,430.93h5.2M581.08,432.68h5.2" stroke="#f22" stroke-width="0.85" fill="none"/>
<rect x="580.78" y="428.91" width="5.8" height="5.8" fill="#f00"/>
<path d="M587.96,433.73V435.35M585.36,433.73h5.2M585.36,435.35h5.2" stroke="#f22" stroke-width="0.85" fill="none"/>
<rect x="585.06" y="431.64" width="5.8" height="5.8" fill="#f00"/>
<path d="M592.23,436.18V437.68M589.63,436.18h5.2M589.63,437.68h5.2" stroke="#f22" stroke-width="0.85" fill="none"/>
<rect x="589.33" y="434.03" width="5.8" height="5.8" fill="#f00"/>
<path d="M596.51,438.43V439.79M593.91,438.43h5.2M593.91,439.79h5.2" stroke="#f22" stroke-width="0.85" fill="none"/>
<rect x="593.61" y="436.21" width="5.8" height="5.8" fill="#f00"/>
<path d="M600.79,440.41V441.65M598.19,440.41h5.2M598.19,441.65h5.2" stroke="#f22" stroke-width="0.85" fill="none"/>
<rect x="597.89" y="438.13" width="5.8" height="5.8" fill="#f00"/>
<path d="M605.06,442.05V443.17M602.46,442.05h5.2M602.46,443.17h5.2" stroke="#f22" stroke-width="0.85" fill="none"/>
<rect x="602.16" y="439.71" width="5.8" height="5.8" fill="#f00"/>
<path d="M609.34,443.53V444.51M606.74,443.53h5.2M606.74,444.51h5.2" stroke="#f22" stroke-width="0.85" fill="none"/>
<rect x="606.44" y="441.12" width="5.8" height="5.8" fill="#f00"/>
<path d="M613.62,444.87V445.73M611.02,444.87h5.2M611.02,445.73h5.2" stroke="#f22" stroke-width="0.85" fill="none"/>
<rect x="610.72" y="442.40" width="5.8" height="5.8" fill="#f00"/>
</svg>
</body></html>
